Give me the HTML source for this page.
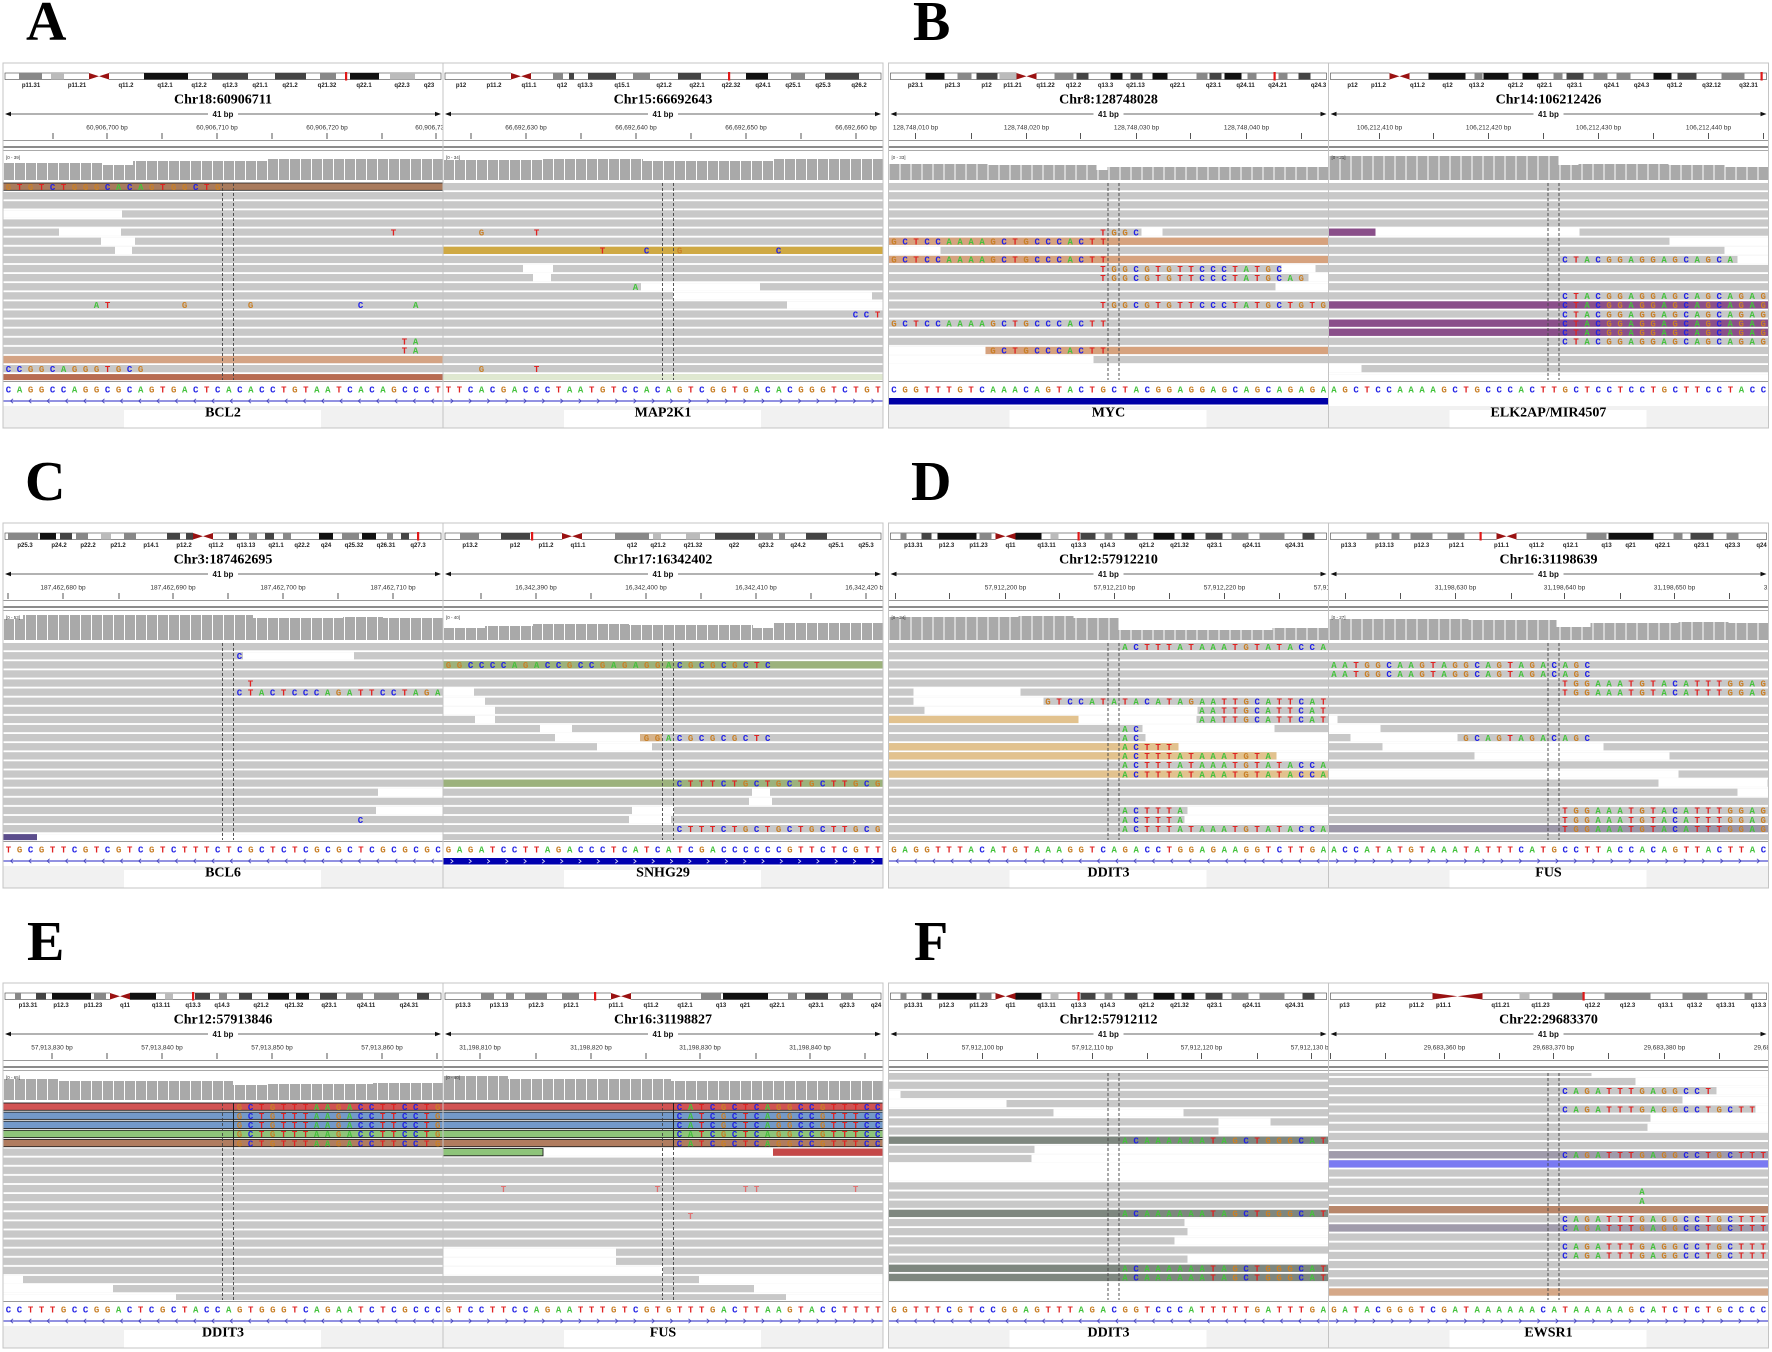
<!DOCTYPE html>
<html><head><meta charset="utf-8"><style>
html,body{margin:0;padding:0;background:#fff;overflow:hidden}
svg{display:block}
text{font-family:"Liberation Sans",sans-serif}
.q{font:bold 9px "Liberation Mono",monospace;letter-spacing:5.6px;white-space:pre}
.a{fill:#44c23c}.c{fill:#2222e6}.g{fill:#c98028}.t{fill:#e02222}
.bl{font:bold 6px "Liberation Sans",sans-serif;fill:#222;text-anchor:middle}
.tt{font:bold 14px "Liberation Serif",serif;text-anchor:middle;fill:#000}
.tk{font:6.5px "Liberation Sans",sans-serif;fill:#333;text-anchor:middle}
.bp{font:bold 8px "Liberation Sans",sans-serif;text-anchor:middle;fill:#111}
.cl{font:4.5px "Liberation Sans",sans-serif;fill:#333}
.big{font:bold 56px "Liberation Serif",serif;fill:#000}
.w{fill:#fff}.cv{fill:#a9a9a9}
.i1{stroke:#111;stroke-width:6.5}.i2{stroke:#444;stroke-width:6.5}.i3{stroke:#888;stroke-width:6.5}.i4{stroke:#bbb;stroke-width:6.5}
.tkl{stroke:#555;stroke-width:1}
.ds{stroke:#444;stroke-width:.9;stroke-dasharray:3 2;fill:none}
.fr{fill:none;stroke:#c4c4c4;stroke-width:1}
</style></head><body>
<svg xmlns="http://www.w3.org/2000/svg" width="1772" height="1352" viewBox="0 0 1772 1352">
<defs>
<clipPath id="cp"><rect x="0" y="0" width="440" height="365"/></clipPath>
<pattern id="rw" x="0" y="120" width="440" height="9.1" patternUnits="userSpaceOnUse"><rect width="440" height="7.3" fill="#c8c8c8"/></pattern>
<pattern id="rf1" x="0" y="89.5" width="440" height="9.15" patternUnits="userSpaceOnUse"><rect width="440" height="7.3" fill="#c8c8c8"/></pattern>
<pattern id="rf2" x="0" y="94.9" width="440" height="9.15" patternUnits="userSpaceOnUse"><rect width="440" height="7.3" fill="#c8c8c8"/></pattern>
<pattern id="vs" x="0" y="0" width="11" height="400" patternUnits="userSpaceOnUse"><rect width="1" height="400" fill="#fff"/></pattern>
<pattern id="gl" x="0" y="335" width="18.3" height="6" patternUnits="userSpaceOnUse"><path d="M10,0.8L7.6,3L10,5.2" stroke="#3838b8" stroke-width="0.8" fill="none"/></pattern>
<pattern id="gr" x="0" y="335" width="18.3" height="6" patternUnits="userSpaceOnUse"><path d="M7.6,0.8L10,3L7.6,5.2" stroke="#3838b8" stroke-width="0.8" fill="none"/></pattern>
<pattern id="gw" x="0" y="335" width="18.3" height="6.5" patternUnits="userSpaceOnUse"><path d="M7.6,1.3L10,3.25L7.6,5.2" stroke="#fff" stroke-width="0.8" fill="none"/></pattern>
</defs>

<text class="big" x="26" y="40">A</text>
<text class="big" x="913" y="40">B</text>
<text class="big" x="25" y="500">C</text>
<text class="big" x="911" y="500">D</text>
<text class="big" x="27" y="960">E</text>
<text class="big" x="914" y="960">F</text>

<!-- ================= PANEL A ================= -->
<g transform="translate(3,63)">
<g clip-path="url(#cp)">
<rect x="2" y="10" width="436" height="6.5" fill="#fff" stroke="#444" stroke-width="0.6"/>
<path class="i1" d="M141,13.25H185M347,13.25H376"/><path class="i2" d="M209,13.25H245M272,13.25H303"/><path class="i3" d="M16,13.25H39M317,13.25H333"/><path class="i4" d="M48,13.25H61M387,13.25H412"/>
<rect x="86" y="9.5" width="20" height="7.5" fill="#fff"/><path d="M86,10L96,13.25L86,16.5ZM106,10L96,13.25L106,16.5Z" fill="#9a1212"/><rect x="342" y="9" width="2.2" height="8.5" fill="#e01818"/>
<text class="bl" y="24"><tspan x="28">p11.31</tspan><tspan x="74">p11.21</tspan><tspan x="123">q11.2</tspan><tspan x="162">q12.1</tspan><tspan x="196">q12.2</tspan><tspan x="227">q12.3</tspan><tspan x="257">q21.1</tspan><tspan x="287">q21.2</tspan><tspan x="324">q21.32</tspan><tspan x="361">q22.1</tspan><tspan x="399">q22.3</tspan><tspan x="426">q23</tspan></text>
<text class="tt" x="220" y="40.7">Chr18:60906711</text>
<path d="M6,51H434" stroke="#333" stroke-width="0.8"/><path d="M2,51l6,-2.2v4.4zM438,51l-6,-2.2v4.4z" fill="#111"/><rect x="205" y="46" width="30" height="9" fill="#fff"/><text class="bp" x="220" y="54">41 bp</text>
<text class="tk" y="66.5"><tspan x="104">60,906,700 bp</tspan><tspan x="214">60,906,710 bp</tspan><tspan x="324">60,906,720 bp</tspan><tspan x="433">60,906,730 bp</tspan></text>
<path class="tkl" d="M50,70v6M104,70v6M159,70v6M214,70v6M269,70v6M324,70v6M379,70v6M433,70v6"/>
<path d="M0,77.5H440" stroke="#999"/><path d="M0,84H440" stroke="#666" stroke-width="1.4"/><path d="M0,87.5H440" stroke="#aaa"/>
<g class="cv"><rect x="0" y="100" width="100" height="17"/><rect x="100" y="102" width="30" height="15"/><rect x="130" y="98" width="134" height="19"/><rect x="264" y="96" width="176" height="21"/></g>
<rect x="0" y="90" width="440" height="28" fill="url(#vs)"/><text class="cl" x="3" y="96">[0 - 39]</text>
<rect y="120" width="440" height="197" fill="#fff"/><rect y="120" width="440" height="197" fill="url(#rw)"/>
<rect y="120" width="440" height="7.3" fill="#a97b5d" stroke="#222" stroke-width="0.8"/>
<rect class="w" x="0" y="147.3" width="119" height="7.4"/>
<rect class="w" x="56" y="165.5" width="62" height="7.4"/>
<rect class="w" x="98" y="174.6" width="34" height="7.4"/>
<rect class="w" x="112" y="183.7" width="17" height="7.4"/>
<rect y="292.9" width="440" height="7.3" fill="#d4a384"/>
<rect y="311.1" width="440" height="6" fill="#b86c52"/>
<text class="q" x="2.8" y="126.9"><tspan class="g">G</tspan><tspan class="t">T</tspan><tspan class="g">G</tspan><tspan class="t">T</tspan><tspan class="c">C</tspan><tspan class="t">T</tspan><tspan class="g">GGG</tspan><tspan class="c">C</tspan><tspan class="a">A</tspan><tspan class="c">C</tspan><tspan class="a">A</tspan><tspan class="g">G</tspan><tspan class="t">T</tspan><tspan class="g">GG</tspan><tspan class="c">C</tspan><tspan class="t">T</tspan><tspan class="g">G</tspan></text>
<text class="q" x="387.8" y="172.4"><tspan class="t">T</tspan></text>
<text class="q" x="90.8" y="245.2"><tspan class="a">A</tspan><tspan class="t">T</tspan>      <tspan class="g">G</tspan>     <tspan class="g">G</tspan>         <tspan class="c">C</tspan>    <tspan class="a">A</tspan></text>
<text class="q" x="398.8" y="281.6"><tspan class="t">T</tspan><tspan class="a">A</tspan></text>
<text class="q" x="398.8" y="290.7"><tspan class="t">T</tspan><tspan class="a">A</tspan></text>
<text class="q" x="2.8" y="308.9"><tspan class="c">CC</tspan><tspan class="g">GG</tspan><tspan class="c">C</tspan><tspan class="a">A</tspan><tspan class="g">GGG</tspan><tspan class="t">T</tspan><tspan class="g">G</tspan><tspan class="c">C</tspan><tspan class="g">G</tspan></text>
<path class="ds" d="M219.5,120V317M230.5,120V317"/>
<path d="M0,318.5H440" stroke="#999"/>
<text class="q" x="2.8" y="329.5"><tspan class="c">C</tspan><tspan class="a">A</tspan><tspan class="g">GG</tspan><tspan class="c">CC</tspan><tspan class="a">A</tspan><tspan class="g">GG</tspan><tspan class="c">C</tspan><tspan class="g">G</tspan><tspan class="c">C</tspan><tspan class="a">A</tspan><tspan class="g">G</tspan><tspan class="t">T</tspan><tspan class="g">G</tspan><tspan class="a">A</tspan><tspan class="c">C</tspan><tspan class="t">T</tspan><tspan class="c">C</tspan><tspan class="a">A</tspan><tspan class="c">C</tspan><tspan class="a">A</tspan><tspan class="c">CC</tspan><tspan class="t">T</tspan><tspan class="g">G</tspan><tspan class="t">T</tspan><tspan class="a">AA</tspan><tspan class="t">T</tspan><tspan class="c">C</tspan><tspan class="a">A</tspan><tspan class="c">C</tspan><tspan class="a">A</tspan><tspan class="g">G</tspan><tspan class="c">CCC</tspan><tspan class="t">T</tspan></text>
<path d="M0,338H440" stroke="#5050d0" stroke-width="1.3"/><rect x="0" y="335" width="440" height="6" fill="url(#gl)"/>
<rect y="343" width="440" height="22" fill="#f1f1f1"/><rect x="121" y="347" width="197" height="18" fill="#fff"/>
<text class="tt" x="220" y="353.7">BCL2</text>
</g>
<g transform="translate(440,0)"><g clip-path="url(#cp)">
<rect x="2" y="10" width="436" height="6.5" fill="#fff" stroke="#444" stroke-width="0.6"/>
<path class="i1" d="M303,13.25H325"/><path class="i2" d="M126,13.25H131M145,13.25H173M235,13.25H258M382,13.25H416"/><path class="i3" d="M110,13.25H120M190,13.25H207M348,13.25H362"/>
<rect x="68" y="9.5" width="20" height="7.5" fill="#fff"/><path d="M68,10L78,13.25L68,16.5ZM88,10L78,13.25L88,16.5Z" fill="#9a1212"/><rect x="285" y="9" width="2.2" height="8.5" fill="#e01818"/>
<text class="bl" y="24"><tspan x="18">p12</tspan><tspan x="51">p11.2</tspan><tspan x="86">q11.1</tspan><tspan x="119">q12</tspan><tspan x="142">q13.3</tspan><tspan x="179">q15.1</tspan><tspan x="221">q21.2</tspan><tspan x="254">q22.1</tspan><tspan x="288">q22.32</tspan><tspan x="320">q24.1</tspan><tspan x="350">q25.1</tspan><tspan x="380">q25.3</tspan><tspan x="416">q26.2</tspan></text>
<text class="tt" x="220" y="40.7">Chr15:66692643</text>
<path d="M6,51H434" stroke="#333" stroke-width="0.8"/><path d="M2,51l6,-2.2v4.4zM438,51l-6,-2.2v4.4z" fill="#111"/><rect x="205" y="46" width="30" height="9" fill="#fff"/><text class="bp" x="220" y="54">41 bp</text>
<text class="tk" y="66.5"><tspan x="83">66,692,630 bp</tspan><tspan x="193">66,692,640 bp</tspan><tspan x="303">66,692,650 bp</tspan><tspan x="413">66,692,660 bp</tspan></text>
<path class="tkl" d="M28,70v6M83,70v6M138,70v6M193,70v6M248,70v6M303,70v6M358,70v6M413,70v6"/>
<path d="M0,77.5H440" stroke="#999"/><path d="M0,84H440" stroke="#666" stroke-width="1.4"/><path d="M0,87.5H440" stroke="#aaa"/>
<g class="cv"><rect x="0" y="97" width="100" height="20"/><rect x="100" y="96" width="100" height="21"/><rect x="200" y="98" width="130" height="19"/><rect x="330" y="96" width="110" height="21"/></g>
<rect x="0" y="90" width="440" height="28" fill="url(#vs)"/><text class="cl" x="3" y="96">[0 - 34]</text>
<rect y="120" width="440" height="197" fill="#fff"/><rect y="120" width="440" height="197" fill="url(#rw)"/>
<rect y="183.7" width="440" height="7.3" fill="#cfa944"/>
<rect class="w" x="80" y="201.9" width="30" height="7.4"/>
<rect class="w" x="90" y="211" width="18" height="7.4"/>
<rect class="w" x="198" y="220.1" width="119" height="7.4"/>
<rect class="w" x="230" y="229.2" width="199" height="7.4"/>
<rect class="w" x="344" y="238.3" width="96" height="7.4"/>
<rect y="311.1" width="440" height="6" fill="#dfe8d0"/>
<text class="q" x="35.8" y="172.4"><tspan class="g">G</tspan>    <tspan class="t">T</tspan></text>
<text class="q" x="156.8" y="190.6"><tspan class="t">T</tspan>   <tspan class="c">C</tspan>  <tspan class="g">G</tspan>        <tspan class="c">C</tspan></text>
<text class="q" x="189.8" y="227"><tspan class="a">A</tspan></text>
<text class="q" x="409.8" y="254.3"><tspan class="c">CC</tspan><tspan class="t">T</tspan></text>
<text class="q" x="35.8" y="308.9"><tspan class="g">G</tspan>    <tspan class="t">T</tspan></text>
<path class="ds" d="M219.5,120V317M230.5,120V317"/>
<path d="M0,318.5H440" stroke="#999"/>
<text class="q" x="2.8" y="329.5"><tspan class="t">TT</tspan><tspan class="c">C</tspan><tspan class="a">A</tspan><tspan class="c">C</tspan><tspan class="g">G</tspan><tspan class="a">A</tspan><tspan class="c">CCC</tspan><tspan class="t">T</tspan><tspan class="a">AA</tspan><tspan class="t">T</tspan><tspan class="g">G</tspan><tspan class="t">T</tspan><tspan class="c">CC</tspan><tspan class="a">A</tspan><tspan class="c">C</tspan><tspan class="a">A</tspan><tspan class="g">G</tspan><tspan class="t">T</tspan><tspan class="c">C</tspan><tspan class="g">GG</tspan><tspan class="t">T</tspan><tspan class="g">G</tspan><tspan class="a">A</tspan><tspan class="c">C</tspan><tspan class="a">A</tspan><tspan class="c">C</tspan><tspan class="g">GGG</tspan><tspan class="t">T</tspan><tspan class="c">C</tspan><tspan class="t">T</tspan><tspan class="g">G</tspan><tspan class="t">T</tspan></text>
<path d="M0,338H440" stroke="#5050d0" stroke-width="1.3"/><rect x="0" y="335" width="440" height="6" fill="url(#gr)"/>
<rect y="343" width="440" height="22" fill="#f1f1f1"/><rect x="121" y="347" width="197" height="18" fill="#fff"/>
<text class="tt" x="220" y="353.7">MAP2K1</text>
</g></g>
<rect class="fr" x="0" y="0" width="880" height="365"/><path d="M440,0V365" stroke="#c4c4c4"/>
</g>

<!-- ================= PANEL B ================= -->
<g transform="translate(888.5,63)">
<g clip-path="url(#cp)">
<rect x="2" y="10" width="436" height="6.5" fill="#fff" stroke="#444" stroke-width="0.6"/>
<path class="i1" d="M37,13.25H56M222,13.25H234M264,13.25H279M336,13.25H353"/><path class="i2" d="M88,13.25H109M188,13.25H200M242,13.25H254M321,13.25H333M410,13.25H422"/><path class="i3" d="M69,13.25H83M166,13.25H185M308,13.25H319M359,13.25H368M390,13.25H399"/><path class="i4" d="M111,13.25H129"/>
<rect x="128" y="9.5" width="20" height="7.5" fill="#fff"/><path d="M128,10L138,13.25L128,16.5ZM148,10L138,13.25L148,16.5Z" fill="#9a1212"/><rect x="385" y="9" width="2.2" height="8.5" fill="#e01818"/>
<text class="bl" y="24"><tspan x="27">p23.1</tspan><tspan x="64">p21.3</tspan><tspan x="98">p12</tspan><tspan x="124">p11.21</tspan><tspan x="157">q11.22</tspan><tspan x="185">q12.2</tspan><tspan x="217">q13.3</tspan><tspan x="247">q21.13</tspan><tspan x="289">q22.1</tspan><tspan x="325">q23.1</tspan><tspan x="357">q24.11</tspan><tspan x="389">q24.21</tspan><tspan x="430">q24.3</tspan></text>
<text class="tt" x="220" y="40.7">Chr8:128748028</text>
<path d="M6,51H434" stroke="#333" stroke-width="0.8"/><path d="M2,51l6,-2.2v4.4zM438,51l-6,-2.2v4.4z" fill="#111"/><rect x="205" y="46" width="30" height="9" fill="#fff"/><text class="bp" x="220" y="54">41 bp</text>
<text class="tk" y="66.5"><tspan x="27">128,748,010 bp</tspan><tspan x="138">128,748,020 bp</tspan><tspan x="248">128,748,030 bp</tspan><tspan x="358">128,748,040 bp</tspan></text>
<path class="tkl" d="M27,70v6M83,70v6M138,70v6M192,70v6M248,70v6M302,70v6M358,70v6M413,70v6"/>
<path d="M0,77.5H440" stroke="#999"/><path d="M0,84H440" stroke="#666" stroke-width="1.4"/><path d="M0,87.5H440" stroke="#aaa"/>
<g class="cv"><rect x="0" y="101" width="100" height="16"/><rect x="100" y="102" width="108" height="15"/><rect x="208" y="107" width="11" height="10"/><rect x="219" y="104" width="221" height="13"/></g>
<rect x="0" y="90" width="440" height="28" fill="url(#vs)"/><text class="cl" x="3" y="96">[0 - 33]</text>
<rect y="120" width="440" height="197" fill="#fff"/><rect y="120" width="440" height="197" fill="url(#rw)"/>
<rect class="w" x="253" y="165.5" width="21" height="7.4"/>
<rect y="174.6" width="440" height="7.3" fill="#d6a27e"/>
<rect class="w" x="0" y="183.7" width="52" height="7.4"/>
<rect y="192.8" width="440" height="7.3" fill="#d6a27e"/>
<rect class="w" x="393" y="201.9" width="34" height="7.4"/>
<rect class="w" x="420" y="211" width="20" height="7.4"/>
<rect class="w" x="387" y="220.1" width="53" height="7.4"/>
<rect class="w" x="0" y="283.8" width="97" height="7.4"/><rect x="97" y="283.8" width="343" height="7.3" fill="#d6a27e"/>
<rect class="w" x="0" y="292.9" width="205" height="7.4"/>
<rect class="w" x="0" y="302" width="440" height="16"/>
<text class="q" x="211.8" y="172.4"><tspan class="t">T</tspan><tspan class="g">GG</tspan><tspan class="c">C</tspan></text>
<text class="q" x="2.8" y="181.5"><tspan class="g">G</tspan><tspan class="c">C</tspan><tspan class="t">T</tspan><tspan class="c">CC</tspan><tspan class="a">AAAA</tspan><tspan class="g">G</tspan><tspan class="c">C</tspan><tspan class="t">T</tspan><tspan class="g">G</tspan><tspan class="c">CCC</tspan><tspan class="a">A</tspan><tspan class="c">C</tspan><tspan class="t">TT</tspan></text>
<text class="q" x="2.8" y="199.7"><tspan class="g">G</tspan><tspan class="c">C</tspan><tspan class="t">T</tspan><tspan class="c">CC</tspan><tspan class="a">AAAA</tspan><tspan class="g">G</tspan><tspan class="c">C</tspan><tspan class="t">T</tspan><tspan class="g">G</tspan><tspan class="c">CCC</tspan><tspan class="a">A</tspan><tspan class="c">C</tspan><tspan class="t">TT</tspan></text>
<text class="q" x="211.8" y="208.8"><tspan class="t">T</tspan><tspan class="g">GG</tspan><tspan class="c">C</tspan><tspan class="g">G</tspan><tspan class="t">T</tspan><tspan class="g">G</tspan><tspan class="t">TT</tspan><tspan class="c">CCC</tspan><tspan class="t">T</tspan><tspan class="a">A</tspan><tspan class="t">T</tspan><tspan class="g">G</tspan><tspan class="c">C</tspan></text>
<text class="q" x="211.8" y="217.9"><tspan class="t">T</tspan><tspan class="g">GG</tspan><tspan class="c">C</tspan><tspan class="g">G</tspan><tspan class="t">T</tspan><tspan class="g">G</tspan><tspan class="t">TT</tspan><tspan class="c">CCC</tspan><tspan class="t">T</tspan><tspan class="a">A</tspan><tspan class="t">T</tspan><tspan class="g">G</tspan><tspan class="c">C</tspan><tspan class="a">A</tspan><tspan class="g">G</tspan></text>
<text class="q" x="211.8" y="245.2"><tspan class="t">T</tspan><tspan class="g">GG</tspan><tspan class="c">C</tspan><tspan class="g">G</tspan><tspan class="t">T</tspan><tspan class="g">G</tspan><tspan class="t">TT</tspan><tspan class="c">CCC</tspan><tspan class="t">T</tspan><tspan class="a">A</tspan><tspan class="t">T</tspan><tspan class="g">G</tspan><tspan class="c">C</tspan><tspan class="t">T</tspan><tspan class="g">G</tspan><tspan class="t">T</tspan><tspan class="g">G</tspan></text>
<text class="q" x="2.8" y="263.4"><tspan class="g">G</tspan><tspan class="c">C</tspan><tspan class="t">T</tspan><tspan class="c">CC</tspan><tspan class="a">AAAA</tspan><tspan class="g">G</tspan><tspan class="c">C</tspan><tspan class="t">T</tspan><tspan class="g">G</tspan><tspan class="c">CCC</tspan><tspan class="a">A</tspan><tspan class="c">C</tspan><tspan class="t">TT</tspan></text>
<text class="q" x="101.8" y="290.7"><tspan class="g">G</tspan><tspan class="c">C</tspan><tspan class="t">T</tspan><tspan class="g">G</tspan><tspan class="c">CCC</tspan><tspan class="a">A</tspan><tspan class="c">C</tspan><tspan class="t">TT</tspan></text>
<path class="ds" d="M219.5,120V317M230.5,120V317"/>
<path d="M0,318.5H440" stroke="#999"/>
<text class="q" x="2.8" y="329.5"><tspan class="c">C</tspan><tspan class="g">GG</tspan><tspan class="t">TTT</tspan><tspan class="g">G</tspan><tspan class="t">T</tspan><tspan class="c">C</tspan><tspan class="a">AAA</tspan><tspan class="c">C</tspan><tspan class="a">A</tspan><tspan class="g">G</tspan><tspan class="t">T</tspan><tspan class="a">A</tspan><tspan class="c">C</tspan><tspan class="t">T</tspan><tspan class="g">G</tspan><tspan class="c">C</tspan><tspan class="t">T</tspan><tspan class="a">A</tspan><tspan class="c">C</tspan><tspan class="g">GG</tspan><tspan class="a">A</tspan><tspan class="g">GG</tspan><tspan class="a">A</tspan><tspan class="g">G</tspan><tspan class="c">C</tspan><tspan class="a">A</tspan><tspan class="g">G</tspan><tspan class="c">C</tspan><tspan class="a">A</tspan><tspan class="g">G</tspan><tspan class="a">A</tspan><tspan class="g">G</tspan><tspan class="a">A</tspan></text>
<rect x="0" y="335" width="440" height="6.5" fill="#0000a6"/>
<rect y="343" width="440" height="22" fill="#f1f1f1"/><rect x="121" y="347" width="197" height="18" fill="#fff"/>
<text class="tt" x="220" y="353.7">MYC</text>
</g>
<g transform="translate(440,0)"><g clip-path="url(#cp)">
<rect x="2" y="10" width="436" height="6.5" fill="#fff" stroke="#444" stroke-width="0.6"/>
<path class="i1" d="M100,13.25H137M155,13.25H180M194,13.25H210M325,13.25H343"/><path class="i2" d="M238,13.25H255M349,13.25H368"/><path class="i3" d="M146,13.25H154M225,13.25H234M265,13.25H279M288,13.25H302M393,13.25H416"/>
<rect x="61" y="9.5" width="20" height="7.5" fill="#fff"/><path d="M61,10L71,13.25L61,16.5ZM81,10L71,13.25L81,16.5Z" fill="#9a1212"/><rect x="432" y="9" width="2.2" height="8.5" fill="#e01818"/>
<text class="bl" y="24"><tspan x="24">p12</tspan><tspan x="50">p11.2</tspan><tspan x="89">q11.2</tspan><tspan x="119">q12</tspan><tspan x="148">q13.2</tspan><tspan x="187">q21.2</tspan><tspan x="216">q22.1</tspan><tspan x="246">q23.1</tspan><tspan x="283">q24.1</tspan><tspan x="313">q24.3</tspan><tspan x="346">q31.2</tspan><tspan x="383">q32.12</tspan><tspan x="420">q32.31</tspan></text>
<text class="tt" x="220" y="40.7">Chr14:106212426</text>
<path d="M6,51H434" stroke="#333" stroke-width="0.8"/><path d="M2,51l6,-2.2v4.4zM438,51l-6,-2.2v4.4z" fill="#111"/><rect x="205" y="46" width="30" height="9" fill="#fff"/><text class="bp" x="220" y="54">41 bp</text>
<text class="tk" y="66.5"><tspan x="51">106,212,410 bp</tspan><tspan x="160">106,212,420 bp</tspan><tspan x="270">106,212,430 bp</tspan><tspan x="380">106,212,440 bp</tspan></text>
<path class="tkl" d="M51,70v6M105,70v6M160,70v6M215,70v6M270,70v6M325,70v6M380,70v6M435,70v6"/>
<path d="M0,77.5H440" stroke="#999"/><path d="M0,84H440" stroke="#666" stroke-width="1.4"/><path d="M0,87.5H440" stroke="#aaa"/>
<g class="cv"><rect x="0" y="93" width="230" height="24"/><rect x="230" y="102" width="20" height="15"/><rect x="250" y="101" width="90" height="16"/><rect x="340" y="102" width="56" height="15"/><rect x="396" y="104" width="44" height="13"/></g>
<rect x="0" y="90" width="440" height="28" fill="url(#vs)"/><text class="cl" x="3" y="96">[0 - 21]</text>
<rect y="120" width="440" height="197" fill="#fff"/><rect y="120" width="440" height="197" fill="url(#rw)"/>
<rect x="0" y="165.5" width="47" height="7.3" fill="#8a4f8a"/><rect class="w" x="47" y="165.5" width="204" height="7.4"/>
<rect class="w" x="341" y="174.6" width="99" height="7.4"/>
<rect class="w" x="396" y="183.7" width="44" height="7.4"/>
<rect class="w" x="409" y="192.8" width="31" height="7.4"/>
<rect y="238.3" width="440" height="7.3" fill="#8a4f8a"/>
<rect y="256.5" width="440" height="7.3" fill="#8a4f8a"/>
<rect y="265.6" width="440" height="7.3" fill="#8a4f8a"/>
<rect class="w" x="0" y="302" width="33" height="7.4"/>
<rect class="w" x="0" y="311.1" width="440" height="7"/>
<text class="q" x="233.8" y="199.7"><tspan class="c">C</tspan><tspan class="t">T</tspan><tspan class="a">A</tspan><tspan class="c">C</tspan><tspan class="g">GG</tspan><tspan class="a">A</tspan><tspan class="g">GG</tspan><tspan class="a">A</tspan><tspan class="g">G</tspan><tspan class="c">C</tspan><tspan class="a">A</tspan><tspan class="g">G</tspan><tspan class="c">C</tspan><tspan class="a">A</tspan></text>
<text class="q" x="233.8" y="236.1"><tspan class="c">C</tspan><tspan class="t">T</tspan><tspan class="a">A</tspan><tspan class="c">C</tspan><tspan class="g">GG</tspan><tspan class="a">A</tspan><tspan class="g">GG</tspan><tspan class="a">A</tspan><tspan class="g">G</tspan><tspan class="c">C</tspan><tspan class="a">A</tspan><tspan class="g">G</tspan><tspan class="c">C</tspan><tspan class="a">A</tspan><tspan class="g">G</tspan><tspan class="a">A</tspan><tspan class="g">G</tspan></text>
<text class="q" x="233.8" y="245.2"><tspan class="c">C</tspan><tspan class="t">T</tspan><tspan class="a">A</tspan><tspan class="c">C</tspan><tspan class="g">GG</tspan><tspan class="a">A</tspan><tspan class="g">GG</tspan><tspan class="a">A</tspan><tspan class="g">G</tspan><tspan class="c">C</tspan><tspan class="a">A</tspan><tspan class="g">G</tspan><tspan class="c">C</tspan><tspan class="a">A</tspan><tspan class="g">G</tspan><tspan class="a">A</tspan><tspan class="g">G</tspan></text>
<text class="q" x="233.8" y="254.3"><tspan class="c">C</tspan><tspan class="t">T</tspan><tspan class="a">A</tspan><tspan class="c">C</tspan><tspan class="g">GG</tspan><tspan class="a">A</tspan><tspan class="g">GG</tspan><tspan class="a">A</tspan><tspan class="g">G</tspan><tspan class="c">C</tspan><tspan class="a">A</tspan><tspan class="g">G</tspan><tspan class="c">C</tspan><tspan class="a">A</tspan><tspan class="g">G</tspan><tspan class="a">A</tspan><tspan class="g">G</tspan></text>
<text class="q" x="233.8" y="263.4"><tspan class="c">C</tspan><tspan class="t">T</tspan><tspan class="a">A</tspan><tspan class="c">C</tspan><tspan class="g">GG</tspan><tspan class="a">A</tspan><tspan class="g">GG</tspan><tspan class="a">A</tspan><tspan class="g">G</tspan><tspan class="c">C</tspan><tspan class="a">A</tspan><tspan class="g">G</tspan><tspan class="c">C</tspan><tspan class="a">A</tspan><tspan class="g">G</tspan><tspan class="a">A</tspan><tspan class="g">G</tspan></text>
<text class="q" x="233.8" y="272.5"><tspan class="c">C</tspan><tspan class="t">T</tspan><tspan class="a">A</tspan><tspan class="c">C</tspan><tspan class="g">GG</tspan><tspan class="a">A</tspan><tspan class="g">GG</tspan><tspan class="a">A</tspan><tspan class="g">G</tspan><tspan class="c">C</tspan><tspan class="a">A</tspan><tspan class="g">G</tspan><tspan class="c">C</tspan><tspan class="a">A</tspan><tspan class="g">G</tspan><tspan class="a">A</tspan><tspan class="g">G</tspan></text>
<text class="q" x="233.8" y="281.6"><tspan class="c">C</tspan><tspan class="t">T</tspan><tspan class="a">A</tspan><tspan class="c">C</tspan><tspan class="g">GG</tspan><tspan class="a">A</tspan><tspan class="g">GG</tspan><tspan class="a">A</tspan><tspan class="g">G</tspan><tspan class="c">C</tspan><tspan class="a">A</tspan><tspan class="g">G</tspan><tspan class="c">C</tspan><tspan class="a">A</tspan><tspan class="g">G</tspan><tspan class="a">A</tspan><tspan class="g">G</tspan></text>
<path class="ds" d="M219.5,120V317M230.5,120V317"/>
<path d="M0,318.5H440" stroke="#999"/>
<text class="q" x="2.8" y="329.5"><tspan class="a">A</tspan><tspan class="g">G</tspan><tspan class="c">C</tspan><tspan class="t">T</tspan><tspan class="c">CC</tspan><tspan class="a">AAAA</tspan><tspan class="g">G</tspan><tspan class="c">C</tspan><tspan class="t">T</tspan><tspan class="g">G</tspan><tspan class="c">CCC</tspan><tspan class="a">A</tspan><tspan class="c">C</tspan><tspan class="t">TT</tspan><tspan class="g">G</tspan><tspan class="c">C</tspan><tspan class="t">T</tspan><tspan class="c">CC</tspan><tspan class="t">T</tspan><tspan class="c">CC</tspan><tspan class="t">T</tspan><tspan class="g">G</tspan><tspan class="c">C</tspan><tspan class="t">TT</tspan><tspan class="c">CC</tspan><tspan class="t">T</tspan><tspan class="a">A</tspan><tspan class="c">CC</tspan></text>
<rect y="343" width="440" height="22" fill="#f1f1f1"/><rect x="121" y="347" width="197" height="18" fill="#fff"/>
<text class="tt" x="220" y="353.7">ELK2AP/MIR4507</text>
</g></g>
<rect class="fr" x="0" y="0" width="880" height="365"/><path d="M440,0V365" stroke="#c4c4c4"/>
</g>

<!-- ================= PANEL C ================= -->
<g transform="translate(3,523)">
<g clip-path="url(#cp)">
<rect x="2" y="10" width="436" height="6.5" fill="#fff" stroke="#444" stroke-width="0.6"/>
<path class="i1" d="M37,13.25H53M316,13.25H330M359,13.25H373"/><path class="i2" d="M57,13.25H69M164,13.25H177M183,13.25H192M226,13.25H234M262,13.25H271M398,13.25H406"/><path class="i3" d="M5,13.25H35M73,13.25H85M121,13.25H133M246,13.25H254M280,13.25H288M339,13.25H356M384,13.25H390"/><path class="i4" d="M98,13.25H108"/>
<rect x="190" y="9.5" width="20" height="7.5" fill="#fff"/><path d="M190,10L200,13.25L190,16.5ZM210,10L200,13.25L210,16.5Z" fill="#9a1212"/><rect x="414" y="9" width="2.2" height="8.5" fill="#e01818"/>
<text class="bl" y="24"><tspan x="22">p25.3</tspan><tspan x="56">p24.2</tspan><tspan x="85">p22.2</tspan><tspan x="115">p21.2</tspan><tspan x="148">p14.1</tspan><tspan x="181">p12.2</tspan><tspan x="213">q11.2</tspan><tspan x="243">q13.13</tspan><tspan x="273">q21.1</tspan><tspan x="299">q22.2</tspan><tspan x="323">q24</tspan><tspan x="351">q25.32</tspan><tspan x="383">q26.31</tspan><tspan x="415">q27.3</tspan></text>
<text class="tt" x="220" y="40.7">Chr3:187462695</text>
<path d="M6,51H434" stroke="#333" stroke-width="0.8"/><path d="M2,51l6,-2.2v4.4zM438,51l-6,-2.2v4.4z" fill="#111"/><rect x="205" y="46" width="30" height="9" fill="#fff"/><text class="bp" x="220" y="54">41 bp</text>
<text class="tk" y="66.5"><tspan x="60">187,462,680 bp</tspan><tspan x="170">187,462,690 bp</tspan><tspan x="280">187,462,700 bp</tspan><tspan x="390">187,462,710 bp</tspan></text>
<path class="tkl" d="M5,70v6M60,70v6M116,70v6M170,70v6M225,70v6M280,70v6M335,70v6M390,70v6"/>
<path d="M0,77.5H440" stroke="#999"/><path d="M0,84H440" stroke="#666" stroke-width="1.4"/><path d="M0,87.5H440" stroke="#aaa"/>
<g class="cv"><rect x="0" y="96" width="20" height="21"/><rect x="20" y="92" width="230" height="25"/><rect x="250" y="95" width="90" height="22"/><rect x="340" y="94" width="40" height="23"/><rect x="380" y="95" width="60" height="22"/></g>
<rect x="0" y="90" width="440" height="28" fill="url(#vs)"/><text class="cl" x="3" y="96">[0 - 53]</text>
<rect y="120" width="440" height="197" fill="#fff"/><rect y="120" width="440" height="197" fill="url(#rw)"/>
<rect class="w" x="240" y="129.1" width="111" height="7.4"/>
<rect class="w" x="375" y="265.6" width="65" height="7.4"/>
<rect class="w" x="373" y="283.8" width="67" height="7.4"/>
<rect class="w" x="0" y="311.1" width="440" height="7"/><rect x="0" y="311.1" width="34" height="6" fill="#5b4d8c"/>
<text class="q" x="233.8" y="136"><tspan class="c">C</tspan></text>
<text class="q" x="244.8" y="163.3"><tspan class="t">T</tspan></text>
<text class="q" x="233.8" y="172.4"><tspan class="c">C</tspan><tspan class="t">T</tspan><tspan class="a">A</tspan><tspan class="c">C</tspan><tspan class="t">T</tspan><tspan class="c">CCC</tspan><tspan class="a">A</tspan><tspan class="g">G</tspan><tspan class="a">A</tspan><tspan class="t">TT</tspan><tspan class="c">CC</tspan><tspan class="t">T</tspan><tspan class="a">A</tspan><tspan class="g">G</tspan><tspan class="a">A</tspan></text>
<text class="q" x="354.8" y="299.8"><tspan class="c">C</tspan></text>
<path class="ds" d="M219.5,120V317M230.5,120V317"/>
<path d="M0,318.5H440" stroke="#999"/>
<text class="q" x="2.8" y="329.5"><tspan class="t">T</tspan><tspan class="g">G</tspan><tspan class="c">C</tspan><tspan class="g">G</tspan><tspan class="t">TT</tspan><tspan class="c">C</tspan><tspan class="g">G</tspan><tspan class="t">T</tspan><tspan class="c">C</tspan><tspan class="g">G</tspan><tspan class="t">T</tspan><tspan class="c">C</tspan><tspan class="g">G</tspan><tspan class="t">T</tspan><tspan class="c">C</tspan><tspan class="t">TTT</tspan><tspan class="c">C</tspan><tspan class="t">T</tspan><tspan class="c">C</tspan><tspan class="g">G</tspan><tspan class="c">C</tspan><tspan class="t">T</tspan><tspan class="c">C</tspan><tspan class="t">T</tspan><tspan class="c">C</tspan><tspan class="g">G</tspan><tspan class="c">C</tspan><tspan class="g">G</tspan><tspan class="c">C</tspan><tspan class="t">T</tspan><tspan class="c">C</tspan><tspan class="g">G</tspan><tspan class="c">C</tspan><tspan class="g">G</tspan><tspan class="c">C</tspan><tspan class="g">G</tspan><tspan class="c">C</tspan></text>
<path d="M0,338H440" stroke="#5050d0" stroke-width="1.3"/><rect x="0" y="335" width="440" height="6" fill="url(#gl)"/>
<rect y="343" width="440" height="22" fill="#f1f1f1"/><rect x="121" y="347" width="197" height="18" fill="#fff"/>
<text class="tt" x="220" y="353.7">BCL6</text>
</g>
<g transform="translate(440,0)"><g clip-path="url(#cp)">
<rect x="2" y="10" width="436" height="6.5" fill="#fff" stroke="#444" stroke-width="0.6"/>
<path class="i2" d="M58,13.25H87M272,13.25H312M363,13.25H384"/><path class="i3" d="M17,13.25H36M172,13.25H206M315,13.25H330M336,13.25H342"/><path class="i4" d="M210,13.25H218M243,13.25H257"/>
<rect x="119" y="9.5" width="20" height="7.5" fill="#fff"/><path d="M119,10L129,13.25L119,16.5ZM139,10L129,13.25L139,16.5Z" fill="#9a1212"/><rect x="88" y="9" width="2.2" height="8.5" fill="#e01818"/>
<text class="bl" y="24"><tspan x="27">p13.2</tspan><tspan x="72">p12</tspan><tspan x="103">p11.2</tspan><tspan x="135">q11.1</tspan><tspan x="189">q12</tspan><tspan x="215">q21.2</tspan><tspan x="250">q21.32</tspan><tspan x="291">q22</tspan><tspan x="323">q23.2</tspan><tspan x="355">q24.2</tspan><tspan x="393">q25.1</tspan><tspan x="423">q25.3</tspan></text>
<text class="tt" x="220" y="40.7">Chr17:16342402</text>
<path d="M6,51H434" stroke="#333" stroke-width="0.8"/><path d="M2,51l6,-2.2v4.4zM438,51l-6,-2.2v4.4z" fill="#111"/><rect x="205" y="46" width="30" height="9" fill="#fff"/><text class="bp" x="220" y="54">41 bp</text>
<text class="tk" y="66.5"><tspan x="93">16,342,390 bp</tspan><tspan x="203">16,342,400 bp</tspan><tspan x="313">16,342,410 bp</tspan><tspan x="423">16,342,420 bp</tspan></text>
<path class="tkl" d="M38,70v6M93,70v6M148,70v6M203,70v6M258,70v6M313,70v6M368,70v6M423,70v6"/>
<path d="M0,77.5H440" stroke="#999"/><path d="M0,84H440" stroke="#666" stroke-width="1.4"/><path d="M0,87.5H440" stroke="#aaa"/>
<g class="cv"><rect x="0" y="105" width="42" height="12"/><rect x="42" y="103" width="48" height="14"/><rect x="90" y="101" width="96" height="16"/><rect x="186" y="102" width="124" height="15"/><rect x="310" y="105" width="20" height="12"/><rect x="330" y="100" width="110" height="17"/></g>
<rect x="0" y="90" width="440" height="28" fill="url(#vs)"/><text class="cl" x="3" y="96">[0 - 40]</text>
<rect y="120" width="440" height="197" fill="#fff"/><rect y="120" width="440" height="197" fill="url(#rw)"/>
<rect y="138.2" width="440" height="7.3" fill="#9cb27c"/>
<rect class="w" x="0" y="165.5" width="31" height="7.4"/>
<rect class="w" x="0" y="174.6" width="42" height="7.4"/>
<rect class="w" x="0" y="183.7" width="52" height="7.4"/>
<rect class="w" x="32" y="192.8" width="20" height="7.4"/>
<rect class="w" x="97" y="201.9" width="32" height="7.4"/>
<rect class="w" x="112" y="211" width="88" height="7.4"/><rect x="197" y="211" width="22" height="7.3" fill="#d6b48c"/>
<rect class="w" x="154" y="220.1" width="55" height="7.4"/>
<rect y="256.5" width="440" height="7.3" fill="#9cb27c"/>
<rect class="w" x="309" y="265.6" width="18" height="7.4"/>
<rect class="w" x="306" y="274.7" width="23" height="7.4"/>
<rect class="w" x="189" y="283.8" width="42" height="7.4"/>
<rect class="w" x="186" y="292.9" width="42" height="7.4"/>
<text class="q" x="2.8" y="145.1"><tspan class="g">GG</tspan><tspan class="c">CCCC</tspan><tspan class="a">A</tspan><tspan class="g">G</tspan><tspan class="a">A</tspan><tspan class="c">CC</tspan><tspan class="g">G</tspan><tspan class="c">CC</tspan><tspan class="g">G</tspan><tspan class="a">A</tspan><tspan class="g">G</tspan><tspan class="a">A</tspan><tspan class="g">GG</tspan><tspan class="a">A</tspan><tspan class="c">C</tspan><tspan class="g">G</tspan><tspan class="c">C</tspan><tspan class="g">G</tspan><tspan class="c">C</tspan><tspan class="g">G</tspan><tspan class="c">C</tspan><tspan class="t">T</tspan><tspan class="c">C</tspan></text>
<text class="q" x="200.8" y="217.9"><tspan class="g">GG</tspan><tspan class="a">A</tspan><tspan class="c">C</tspan><tspan class="g">G</tspan><tspan class="c">C</tspan><tspan class="g">G</tspan><tspan class="c">C</tspan><tspan class="g">G</tspan><tspan class="c">C</tspan><tspan class="t">T</tspan><tspan class="c">C</tspan></text>
<text class="q" x="233.8" y="263.4"><tspan class="c">C</tspan><tspan class="t">TTT</tspan><tspan class="c">C</tspan><tspan class="t">T</tspan><tspan class="g">G</tspan><tspan class="c">C</tspan><tspan class="t">T</tspan><tspan class="g">G</tspan><tspan class="c">C</tspan><tspan class="t">T</tspan><tspan class="g">G</tspan><tspan class="c">C</tspan><tspan class="t">TT</tspan><tspan class="g">G</tspan><tspan class="c">C</tspan><tspan class="g">G</tspan></text>
<text class="q" x="233.8" y="308.9"><tspan class="c">C</tspan><tspan class="t">TTT</tspan><tspan class="c">C</tspan><tspan class="t">T</tspan><tspan class="g">G</tspan><tspan class="c">C</tspan><tspan class="t">T</tspan><tspan class="g">G</tspan><tspan class="c">C</tspan><tspan class="t">T</tspan><tspan class="g">G</tspan><tspan class="c">C</tspan><tspan class="t">TT</tspan><tspan class="g">G</tspan><tspan class="c">C</tspan><tspan class="g">G</tspan></text>
<path class="ds" d="M219.5,120V317M230.5,120V317"/>
<path d="M0,318.5H440" stroke="#999"/>
<text class="q" x="2.8" y="329.5"><tspan class="g">G</tspan><tspan class="a">A</tspan><tspan class="g">G</tspan><tspan class="a">A</tspan><tspan class="t">T</tspan><tspan class="c">CC</tspan><tspan class="t">TT</tspan><tspan class="a">A</tspan><tspan class="g">G</tspan><tspan class="a">A</tspan><tspan class="c">CCC</tspan><tspan class="t">T</tspan><tspan class="c">C</tspan><tspan class="a">A</tspan><tspan class="t">T</tspan><tspan class="c">C</tspan><tspan class="a">A</tspan><tspan class="t">T</tspan><tspan class="c">C</tspan><tspan class="g">G</tspan><tspan class="a">A</tspan><tspan class="c">CCCCCC</tspan><tspan class="g">G</tspan><tspan class="t">TT</tspan><tspan class="c">C</tspan><tspan class="t">T</tspan><tspan class="c">C</tspan><tspan class="g">G</tspan><tspan class="t">TT</tspan></text>
<rect x="0" y="335" width="440" height="6.5" fill="#0000b0"/><rect x="0" y="335" width="440" height="6.5" fill="url(#gw)"/>
<rect y="343" width="440" height="22" fill="#f1f1f1"/><rect x="121" y="347" width="197" height="18" fill="#fff"/>
<text class="tt" x="220" y="353.7">SNHG29</text>
</g></g>
<rect class="fr" x="0" y="0" width="880" height="365"/><path d="M440,0V365" stroke="#c4c4c4"/>
</g>

<!-- ================= PANEL D ================= -->
<g transform="translate(888.5,523)">
<g clip-path="url(#cp)">
<rect x="2" y="10" width="436" height="6.5" fill="#fff" stroke="#444" stroke-width="0.6"/>
<path class="i1" d="M49,13.25H88M127,13.25H153M265,13.25H286M293,13.25H306"/><path class="i2" d="M33,13.25H43M192,13.25H207M236,13.25H249M317,13.25H334M414,13.25H426"/><path class="i3" d="M12,13.25H18M91,13.25H103M216,13.25H224M343,13.25H360M371,13.25H396"/><path class="i4" d="M162,13.25H170"/>
<rect x="107" y="9.5" width="20" height="7.5" fill="#fff"/><path d="M107,10L117,13.25L107,16.5ZM127,10L117,13.25L127,16.5Z" fill="#9a1212"/><rect x="189" y="9" width="2.2" height="8.5" fill="#e01818"/>
<text class="bl" y="24"><tspan x="25">p13.31</tspan><tspan x="58">p12.3</tspan><tspan x="90">p11.23</tspan><tspan x="122">q11</tspan><tspan x="158">q13.11</tspan><tspan x="190">q13.3</tspan><tspan x="219">q14.3</tspan><tspan x="258">q21.2</tspan><tspan x="291">q21.32</tspan><tspan x="326">q23.1</tspan><tspan x="363">q24.11</tspan><tspan x="406">q24.31</tspan></text>
<text class="tt" x="220" y="40.7">Chr12:57912210</text>
<path d="M6,51H434" stroke="#333" stroke-width="0.8"/><path d="M2,51l6,-2.2v4.4zM438,51l-6,-2.2v4.4z" fill="#111"/><rect x="205" y="46" width="30" height="9" fill="#fff"/><text class="bp" x="220" y="54">41 bp</text>
<text class="tk" y="66.5"><tspan x="117">57,912,200 bp</tspan><tspan x="226">57,912,210 bp</tspan><tspan x="336">57,912,220 bp</tspan><tspan x="446">57,912,230 bp</tspan></text>
<path class="tkl" d="M7,70v6M61,70v6M117,70v6M171,70v6M226,70v6M281,70v6M336,70v6M391,70v6"/>
<path d="M0,77.5H440" stroke="#999"/><path d="M0,84H440" stroke="#666" stroke-width="1.4"/><path d="M0,87.5H440" stroke="#aaa"/>
<g class="cv"><rect x="0" y="94" width="130" height="23"/><rect x="130" y="93" width="55" height="24"/><rect x="185" y="95" width="45" height="22"/><rect x="230" y="107" width="154" height="10"/><rect x="384" y="105" width="56" height="12"/></g>
<rect x="0" y="90" width="440" height="28" fill="url(#vs)"/><text class="cl" x="3" y="96">[0 - 24]</text>
<rect y="120" width="440" height="197" fill="#fff"/><rect y="120" width="440" height="197" fill="url(#rw)"/>
<rect class="w" x="25" y="165.5" width="107" height="7.4"/>
<rect class="w" x="25" y="174.6" width="130" height="7.4"/>
<rect class="w" x="36" y="183.7" width="273" height="7.4"/>
<rect x="0" y="192.8" width="190" height="7.3" fill="#e2c28e"/><rect class="w" x="190" y="192.8" width="118" height="7.4"/>
<rect class="w" x="254" y="201.9" width="132" height="7.4"/>
<rect class="w" x="257" y="211" width="183" height="7.4"/>
<rect x="0" y="220.1" width="290" height="7.3" fill="#e2c28e"/><rect class="w" x="290" y="220.1" width="150" height="7.4"/>
<rect x="0" y="229.2" width="388" height="7.3" fill="#e2c28e"/><rect class="w" x="388" y="229.2" width="52" height="7.4"/>
<rect y="247.4" width="440" height="7.3" fill="#e2c28e"/>
<rect class="w" x="299" y="283.8" width="141" height="7.4"/>
<rect class="w" x="296" y="292.9" width="144" height="7.4"/>
<text class="q" x="233.8" y="126.9"><tspan class="a">A</tspan><tspan class="c">C</tspan><tspan class="t">TTT</tspan><tspan class="a">A</tspan><tspan class="t">T</tspan><tspan class="a">AAA</tspan><tspan class="t">T</tspan><tspan class="g">G</tspan><tspan class="t">T</tspan><tspan class="a">A</tspan><tspan class="t">T</tspan><tspan class="a">A</tspan><tspan class="c">CC</tspan><tspan class="a">A</tspan></text>
<text class="q" x="156.8" y="181.5"><tspan class="g">G</tspan><tspan class="t">T</tspan><tspan class="c">CC</tspan><tspan class="a">A</tspan><tspan class="t">T</tspan><tspan class="a">A</tspan><tspan class="t">T</tspan><tspan class="a">A</tspan><tspan class="c">C</tspan><tspan class="a">A</tspan><tspan class="t">T</tspan><tspan class="a">A</tspan><tspan class="g">G</tspan><tspan class="a">AA</tspan><tspan class="t">TT</tspan><tspan class="g">G</tspan><tspan class="c">C</tspan><tspan class="a">A</tspan><tspan class="t">TT</tspan><tspan class="c">C</tspan><tspan class="a">A</tspan><tspan class="t">T</tspan></text>
<text class="q" x="310.8" y="190.6"><tspan class="a">AA</tspan><tspan class="t">TT</tspan><tspan class="g">G</tspan><tspan class="c">C</tspan><tspan class="a">A</tspan><tspan class="t">TT</tspan><tspan class="c">C</tspan><tspan class="a">A</tspan><tspan class="t">T</tspan></text>
<text class="q" x="310.8" y="199.7"><tspan class="a">AA</tspan><tspan class="t">TT</tspan><tspan class="g">G</tspan><tspan class="c">C</tspan><tspan class="a">A</tspan><tspan class="t">TT</tspan><tspan class="c">C</tspan><tspan class="a">A</tspan><tspan class="t">T</tspan></text>
<text class="q" x="233.8" y="208.8"><tspan class="a">A</tspan><tspan class="c">C</tspan></text>
<text class="q" x="233.8" y="217.9"><tspan class="a">A</tspan><tspan class="c">C</tspan></text>
<text class="q" x="233.8" y="227"><tspan class="a">A</tspan><tspan class="c">C</tspan><tspan class="t">TTT</tspan></text>
<text class="q" x="233.8" y="236.1"><tspan class="a">A</tspan><tspan class="c">C</tspan><tspan class="t">TTT</tspan><tspan class="a">A</tspan><tspan class="t">T</tspan><tspan class="a">AAA</tspan><tspan class="t">T</tspan><tspan class="g">G</tspan><tspan class="t">T</tspan><tspan class="a">A</tspan></text>
<text class="q" x="233.8" y="245.2"><tspan class="a">A</tspan><tspan class="c">C</tspan><tspan class="t">TTT</tspan><tspan class="a">A</tspan><tspan class="t">T</tspan><tspan class="a">AAA</tspan><tspan class="t">T</tspan><tspan class="g">G</tspan><tspan class="t">T</tspan><tspan class="a">A</tspan><tspan class="t">T</tspan><tspan class="a">A</tspan><tspan class="c">CC</tspan><tspan class="a">A</tspan></text>
<text class="q" x="233.8" y="254.3"><tspan class="a">A</tspan><tspan class="c">C</tspan><tspan class="t">TTT</tspan><tspan class="a">A</tspan><tspan class="t">T</tspan><tspan class="a">AAA</tspan><tspan class="t">T</tspan><tspan class="g">G</tspan><tspan class="t">T</tspan><tspan class="a">A</tspan><tspan class="t">T</tspan><tspan class="a">A</tspan><tspan class="c">CC</tspan><tspan class="a">A</tspan></text>
<text class="q" x="233.8" y="290.7"><tspan class="a">A</tspan><tspan class="c">C</tspan><tspan class="t">TTT</tspan><tspan class="a">A</tspan></text>
<text class="q" x="233.8" y="299.8"><tspan class="a">A</tspan><tspan class="c">C</tspan><tspan class="t">TTT</tspan><tspan class="a">A</tspan></text>
<text class="q" x="233.8" y="308.9"><tspan class="a">A</tspan><tspan class="c">C</tspan><tspan class="t">TTT</tspan><tspan class="a">A</tspan><tspan class="t">T</tspan><tspan class="a">AAA</tspan><tspan class="t">T</tspan><tspan class="g">G</tspan><tspan class="t">T</tspan><tspan class="a">A</tspan><tspan class="t">T</tspan><tspan class="a">A</tspan><tspan class="c">CC</tspan><tspan class="a">A</tspan></text>
<path class="ds" d="M219.5,120V317M230.5,120V317"/>
<path d="M0,318.5H440" stroke="#999"/>
<text class="q" x="2.8" y="329.5"><tspan class="g">G</tspan><tspan class="a">A</tspan><tspan class="g">GG</tspan><tspan class="t">TTT</tspan><tspan class="a">A</tspan><tspan class="c">C</tspan><tspan class="a">A</tspan><tspan class="t">T</tspan><tspan class="g">G</tspan><tspan class="t">T</tspan><tspan class="a">AAA</tspan><tspan class="g">GG</tspan><tspan class="t">T</tspan><tspan class="c">C</tspan><tspan class="a">A</tspan><tspan class="g">G</tspan><tspan class="a">A</tspan><tspan class="c">CC</tspan><tspan class="t">T</tspan><tspan class="g">GG</tspan><tspan class="a">A</tspan><tspan class="g">G</tspan><tspan class="a">AA</tspan><tspan class="g">GG</tspan><tspan class="t">T</tspan><tspan class="c">C</tspan><tspan class="t">TT</tspan><tspan class="g">G</tspan><tspan class="a">A</tspan></text>
<path d="M0,338H440" stroke="#5050d0" stroke-width="1.3"/><rect x="0" y="335" width="440" height="6" fill="url(#gl)"/>
<rect y="343" width="440" height="22" fill="#f1f1f1"/><rect x="121" y="347" width="197" height="18" fill="#fff"/>
<text class="tt" x="220" y="353.7">DDIT3</text>
</g>
<g transform="translate(440,0)"><g clip-path="url(#cp)">
<rect x="2" y="10" width="436" height="6.5" fill="#fff" stroke="#444" stroke-width="0.6"/>
<path class="i1" d="M280,13.25H325"/><path class="i2" d="M362,13.25H385"/><path class="i3" d="M38,13.25H51M63,13.25H71M82,13.25H104M119,13.25H136M258,13.25H278M345,13.25H354M398,13.25H410"/>
<rect x="168" y="9.5" width="20" height="7.5" fill="#fff"/><path d="M168,10L178,13.25L168,16.5ZM188,10L178,13.25L188,16.5Z" fill="#9a1212"/><rect x="151" y="9" width="2.2" height="8.5" fill="#e01818"/>
<text class="bl" y="24"><tspan x="20">p13.3</tspan><tspan x="56">p13.13</tspan><tspan x="93">p12.3</tspan><tspan x="128">p12.1</tspan><tspan x="173">p11.1</tspan><tspan x="208">q11.2</tspan><tspan x="242">q12.1</tspan><tspan x="278">q13</tspan><tspan x="302">q21</tspan><tspan x="334">q22.1</tspan><tspan x="373">q23.1</tspan><tspan x="404">q23.3</tspan><tspan x="433">q24</tspan></text>
<text class="tt" x="220" y="40.7">Chr16:31198639</text>
<path d="M6,51H434" stroke="#333" stroke-width="0.8"/><path d="M2,51l6,-2.2v4.4zM438,51l-6,-2.2v4.4z" fill="#111"/><rect x="205" y="46" width="30" height="9" fill="#fff"/><text class="bp" x="220" y="54">41 bp</text>
<text class="tk" y="66.5"><tspan x="127">31,198,630 bp</tspan><tspan x="236">31,198,640 bp</tspan><tspan x="346">31,198,650 bp</tspan><tspan x="456">31,198,660 bp</tspan></text>
<path class="tkl" d="M17,70v6M72,70v6M127,70v6M183,70v6M236,70v6M292,70v6M346,70v6M401,70v6"/>
<path d="M0,77.5H440" stroke="#999"/><path d="M0,84H440" stroke="#666" stroke-width="1.4"/><path d="M0,87.5H440" stroke="#aaa"/>
<g class="cv"><rect x="0" y="96" width="140" height="21"/><rect x="140" y="97" width="88" height="20"/><rect x="228" y="104" width="34" height="13"/><rect x="262" y="100" width="88" height="17"/><rect x="350" y="99" width="50" height="18"/><rect x="400" y="100" width="40" height="17"/></g>
<rect x="0" y="90" width="440" height="28" fill="url(#vs)"/><text class="cl" x="3" y="96">[0 - 27]</text>
<rect y="120" width="440" height="197" fill="#fff"/><rect y="120" width="440" height="197" fill="url(#rw)"/>
<rect class="w" x="0" y="192.8" width="9" height="7.4"/>
<rect class="w" x="0" y="201.9" width="52" height="7.4"/>
<rect class="w" x="22" y="211" width="107" height="7.4"/>
<rect class="w" x="54" y="220.1" width="221" height="7.4"/>
<rect class="w" x="146" y="229.2" width="195" height="7.4"/>
<rect class="w" x="0" y="247.4" width="350" height="7.4"/>
<rect class="w" x="330" y="256.5" width="109" height="7.4"/>
<rect class="w" x="409" y="265.6" width="31" height="7.4"/>
<rect y="302" width="440" height="7.3" fill="#9c97a8"/>
<text class="q" x="2.8" y="145.1"><tspan class="a">AA</tspan><tspan class="t">T</tspan><tspan class="g">GG</tspan><tspan class="c">C</tspan><tspan class="a">AA</tspan><tspan class="g">G</tspan><tspan class="t">T</tspan><tspan class="a">A</tspan><tspan class="g">GG</tspan><tspan class="c">C</tspan><tspan class="a">A</tspan><tspan class="g">G</tspan><tspan class="t">T</tspan><tspan class="a">A</tspan><tspan class="g">G</tspan><tspan class="a">A</tspan><tspan class="c">C</tspan><tspan class="a">A</tspan><tspan class="g">G</tspan><tspan class="c">C</tspan></text>
<text class="q" x="2.8" y="154.2"><tspan class="a">AA</tspan><tspan class="t">T</tspan><tspan class="g">GG</tspan><tspan class="c">C</tspan><tspan class="a">AA</tspan><tspan class="g">G</tspan><tspan class="t">T</tspan><tspan class="a">A</tspan><tspan class="g">GG</tspan><tspan class="c">C</tspan><tspan class="a">A</tspan><tspan class="g">G</tspan><tspan class="t">T</tspan><tspan class="a">A</tspan><tspan class="g">G</tspan><tspan class="a">A</tspan><tspan class="c">C</tspan><tspan class="a">A</tspan><tspan class="g">G</tspan><tspan class="c">C</tspan></text>
<text class="q" x="233.8" y="163.3"><tspan class="t">T</tspan><tspan class="g">GG</tspan><tspan class="a">AAA</tspan><tspan class="t">T</tspan><tspan class="g">G</tspan><tspan class="t">T</tspan><tspan class="a">A</tspan><tspan class="c">C</tspan><tspan class="a">A</tspan><tspan class="t">TTT</tspan><tspan class="g">GG</tspan><tspan class="a">A</tspan><tspan class="g">G</tspan></text>
<text class="q" x="233.8" y="172.4"><tspan class="t">T</tspan><tspan class="g">GG</tspan><tspan class="a">AAA</tspan><tspan class="t">T</tspan><tspan class="g">G</tspan><tspan class="t">T</tspan><tspan class="a">A</tspan><tspan class="c">C</tspan><tspan class="a">A</tspan><tspan class="t">TTT</tspan><tspan class="g">GG</tspan><tspan class="a">A</tspan><tspan class="g">G</tspan></text>
<text class="q" x="134.8" y="217.9"><tspan class="g">G</tspan><tspan class="c">C</tspan><tspan class="a">A</tspan><tspan class="g">G</tspan><tspan class="t">T</tspan><tspan class="a">A</tspan><tspan class="g">G</tspan><tspan class="a">A</tspan><tspan class="c">C</tspan><tspan class="a">A</tspan><tspan class="g">G</tspan><tspan class="c">C</tspan></text>
<text class="q" x="233.8" y="290.7"><tspan class="t">T</tspan><tspan class="g">GG</tspan><tspan class="a">AAA</tspan><tspan class="t">T</tspan><tspan class="g">G</tspan><tspan class="t">T</tspan><tspan class="a">A</tspan><tspan class="c">C</tspan><tspan class="a">A</tspan><tspan class="t">TTT</tspan><tspan class="g">GG</tspan><tspan class="a">A</tspan><tspan class="g">G</tspan></text>
<text class="q" x="233.8" y="299.8"><tspan class="t">T</tspan><tspan class="g">GG</tspan><tspan class="a">AAA</tspan><tspan class="t">T</tspan><tspan class="g">G</tspan><tspan class="t">T</tspan><tspan class="a">A</tspan><tspan class="c">C</tspan><tspan class="a">A</tspan><tspan class="t">TTT</tspan><tspan class="g">GG</tspan><tspan class="a">A</tspan><tspan class="g">G</tspan></text>
<text class="q" x="233.8" y="308.9"><tspan class="t">T</tspan><tspan class="g">GG</tspan><tspan class="a">AAA</tspan><tspan class="t">T</tspan><tspan class="g">G</tspan><tspan class="t">T</tspan><tspan class="a">A</tspan><tspan class="c">C</tspan><tspan class="a">A</tspan><tspan class="t">TTT</tspan><tspan class="g">GG</tspan><tspan class="a">A</tspan><tspan class="g">G</tspan></text>
<path class="ds" d="M219.5,120V317M230.5,120V317"/>
<path d="M0,318.5H440" stroke="#999"/>
<text class="q" x="2.8" y="329.5"><tspan class="a">A</tspan><tspan class="c">CC</tspan><tspan class="a">A</tspan><tspan class="t">T</tspan><tspan class="a">A</tspan><tspan class="t">T</tspan><tspan class="g">G</tspan><tspan class="t">T</tspan><tspan class="a">AAA</tspan><tspan class="t">T</tspan><tspan class="a">A</tspan><tspan class="t">TTT</tspan><tspan class="c">C</tspan><tspan class="a">A</tspan><tspan class="t">T</tspan><tspan class="g">G</tspan><tspan class="c">CC</tspan><tspan class="t">TT</tspan><tspan class="a">A</tspan><tspan class="c">CC</tspan><tspan class="a">A</tspan><tspan class="c">C</tspan><tspan class="a">A</tspan><tspan class="g">G</tspan><tspan class="t">TT</tspan><tspan class="a">A</tspan><tspan class="c">C</tspan><tspan class="t">TT</tspan><tspan class="a">A</tspan><tspan class="c">C</tspan></text>
<path d="M0,338H440" stroke="#5050d0" stroke-width="1.3"/><rect x="0" y="335" width="440" height="6" fill="url(#gr)"/>
<rect y="343" width="440" height="22" fill="#f1f1f1"/><rect x="121" y="347" width="197" height="18" fill="#fff"/>
<text class="tt" x="220" y="353.7">FUS</text>
</g></g>
<rect class="fr" x="0" y="0" width="880" height="365"/><path d="M440,0V365" stroke="#c4c4c4"/>
</g>

<!-- ================= PANEL E ================= -->
<g transform="translate(3,983)">
<g clip-path="url(#cp)">
<rect x="2" y="10" width="436" height="6.5" fill="#fff" stroke="#444" stroke-width="0.6"/>
<path class="i1" d="M49,13.25H88M127,13.25H153M265,13.25H286M293,13.25H306"/><path class="i2" d="M33,13.25H43M192,13.25H207M236,13.25H249M317,13.25H334M414,13.25H426"/><path class="i3" d="M12,13.25H18M91,13.25H103M216,13.25H224M343,13.25H360M371,13.25H396"/><path class="i4" d="M162,13.25H170"/>
<rect x="107" y="9.5" width="20" height="7.5" fill="#fff"/><path d="M107,10L117,13.25L107,16.5ZM127,10L117,13.25L127,16.5Z" fill="#9a1212"/><rect x="189" y="9" width="2.2" height="8.5" fill="#e01818"/>
<text class="bl" y="24"><tspan x="25">p13.31</tspan><tspan x="58">p12.3</tspan><tspan x="90">p11.23</tspan><tspan x="122">q11</tspan><tspan x="158">q13.11</tspan><tspan x="190">q13.3</tspan><tspan x="219">q14.3</tspan><tspan x="258">q21.2</tspan><tspan x="291">q21.32</tspan><tspan x="326">q23.1</tspan><tspan x="363">q24.11</tspan><tspan x="406">q24.31</tspan></text>
<text class="tt" x="220" y="40.7">Chr12:57913846</text>
<path d="M6,51H434" stroke="#333" stroke-width="0.8"/><path d="M2,51l6,-2.2v4.4zM438,51l-6,-2.2v4.4z" fill="#111"/><rect x="205" y="46" width="30" height="9" fill="#fff"/><text class="bp" x="220" y="54">41 bp</text>
<text class="tk" y="66.5"><tspan x="49">57,913,830 bp</tspan><tspan x="159">57,913,840 bp</tspan><tspan x="269">57,913,850 bp</tspan><tspan x="379">57,913,860 bp</tspan></text>
<path class="tkl" d="M49,70v6M104,70v6M159,70v6M214,70v6M269,70v6M324,70v6M379,70v6M434,70v6"/>
<path d="M0,77.5H440" stroke="#999"/><path d="M0,84H440" stroke="#666" stroke-width="1.4"/><path d="M0,87.5H440" stroke="#aaa"/>
<g class="cv"><rect x="0" y="96" width="55" height="21"/><rect x="55" y="98" width="175" height="19"/><rect x="230" y="102" width="35" height="15"/><rect x="265" y="101" width="105" height="16"/><rect x="370" y="100" width="70" height="17"/></g>
<rect x="0" y="90" width="440" height="28" fill="url(#vs)"/><text class="cl" x="3" y="96">[0 - 65]</text>
<rect y="120" width="440" height="197" fill="#fff"/><rect y="120" width="440" height="197" fill="url(#rw)"/>
<g stroke="#222" stroke-width="0.9"><rect y="120" width="440" height="7.3" fill="#d15353"/><rect y="129.1" width="440" height="7.3" fill="#7399c9"/><rect y="138.2" width="440" height="7.3" fill="#7399c9"/><rect y="147.3" width="440" height="7.3" fill="#8ec47a"/><rect y="156.4" width="440" height="7.3" fill="#b07c5f"/></g>
<path d="M230.5,120V164" stroke="#222" stroke-width="1"/>
<rect class="w" x="0" y="292.9" width="20" height="7.4"/>
<rect class="w" x="0" y="302" width="110" height="7.4"/>
<rect class="w" x="0" y="311.1" width="173" height="7"/>
<text class="q" x="233.8" y="126.9"><tspan class="g">G</tspan><tspan class="c">C</tspan><tspan class="t">T</tspan><tspan class="g">G</tspan><tspan class="t">TTT</tspan><tspan class="a">AA</tspan><tspan class="g">G</tspan><tspan class="a">A</tspan><tspan class="c">CC</tspan><tspan class="t">TT</tspan><tspan class="c">CC</tspan><tspan class="t">T</tspan><tspan class="g">G</tspan></text>
<text class="q" x="233.8" y="136"><tspan class="g">G</tspan><tspan class="c">C</tspan><tspan class="t">T</tspan><tspan class="g">G</tspan><tspan class="t">TTT</tspan><tspan class="a">AA</tspan><tspan class="g">G</tspan><tspan class="a">A</tspan><tspan class="c">CC</tspan><tspan class="t">TT</tspan><tspan class="c">CC</tspan><tspan class="t">T</tspan><tspan class="g">G</tspan></text>
<text class="q" x="233.8" y="145.1"><tspan class="g">G</tspan><tspan class="c">C</tspan><tspan class="t">T</tspan><tspan class="g">G</tspan><tspan class="t">TTT</tspan><tspan class="a">AA</tspan><tspan class="g">G</tspan><tspan class="a">A</tspan><tspan class="c">CC</tspan><tspan class="t">TT</tspan><tspan class="c">CC</tspan><tspan class="t">T</tspan><tspan class="g">G</tspan></text>
<text class="q" x="233.8" y="154.2"><tspan class="g">G</tspan><tspan class="c">C</tspan><tspan class="t">T</tspan><tspan class="g">G</tspan><tspan class="t">TTT</tspan><tspan class="a">AA</tspan><tspan class="g">G</tspan><tspan class="a">A</tspan><tspan class="c">CC</tspan><tspan class="t">TT</tspan><tspan class="c">CC</tspan><tspan class="t">T</tspan><tspan class="g">G</tspan></text>
<text class="q" x="233.8" y="163.3"><tspan class="g">G</tspan><tspan class="c">C</tspan><tspan class="t">T</tspan><tspan class="g">G</tspan><tspan class="t">TTT</tspan><tspan class="a">AA</tspan><tspan class="g">G</tspan><tspan class="a">A</tspan><tspan class="c">CC</tspan><tspan class="t">TT</tspan><tspan class="c">CC</tspan><tspan class="t">T</tspan><tspan class="g">G</tspan></text>
<path class="ds" d="M219.5,120V317M230.5,164V317"/>
<path d="M0,318.5H440" stroke="#999"/>
<text class="q" x="2.8" y="329.5"><tspan class="c">CC</tspan><tspan class="t">TTT</tspan><tspan class="g">G</tspan><tspan class="c">CC</tspan><tspan class="g">GG</tspan><tspan class="a">A</tspan><tspan class="c">C</tspan><tspan class="t">T</tspan><tspan class="c">C</tspan><tspan class="g">G</tspan><tspan class="c">C</tspan><tspan class="t">T</tspan><tspan class="a">A</tspan><tspan class="c">CC</tspan><tspan class="a">A</tspan><tspan class="g">G</tspan><tspan class="t">T</tspan><tspan class="g">GGG</tspan><tspan class="t">T</tspan><tspan class="c">C</tspan><tspan class="a">A</tspan><tspan class="g">G</tspan><tspan class="a">AA</tspan><tspan class="t">T</tspan><tspan class="c">C</tspan><tspan class="t">T</tspan><tspan class="c">C</tspan><tspan class="g">G</tspan><tspan class="c">CCC</tspan></text>
<path d="M0,338H440" stroke="#5050d0" stroke-width="1.3"/><rect x="0" y="335" width="440" height="6" fill="url(#gl)"/>
<rect y="343" width="440" height="22" fill="#f1f1f1"/><rect x="121" y="347" width="197" height="18" fill="#fff"/>
<text class="tt" x="220" y="353.7">DDIT3</text>
</g>
<g transform="translate(440,0)"><g clip-path="url(#cp)">
<rect x="2" y="10" width="436" height="6.5" fill="#fff" stroke="#444" stroke-width="0.6"/>
<path class="i1" d="M280,13.25H325"/><path class="i2" d="M362,13.25H385"/><path class="i3" d="M38,13.25H51M63,13.25H71M82,13.25H104M119,13.25H136M258,13.25H278M345,13.25H354M398,13.25H410"/>
<rect x="168" y="9.5" width="20" height="7.5" fill="#fff"/><path d="M168,10L178,13.25L168,16.5ZM188,10L178,13.25L188,16.5Z" fill="#9a1212"/><rect x="151" y="9" width="2.2" height="8.5" fill="#e01818"/>
<text class="bl" y="24"><tspan x="20">p13.3</tspan><tspan x="56">p13.13</tspan><tspan x="93">p12.3</tspan><tspan x="128">p12.1</tspan><tspan x="173">p11.1</tspan><tspan x="208">q11.2</tspan><tspan x="242">q12.1</tspan><tspan x="278">q13</tspan><tspan x="302">q21</tspan><tspan x="334">q22.1</tspan><tspan x="373">q23.1</tspan><tspan x="404">q23.3</tspan><tspan x="433">q24</tspan></text>
<text class="tt" x="220" y="40.7">Chr16:31198827</text>
<path d="M6,51H434" stroke="#333" stroke-width="0.8"/><path d="M2,51l6,-2.2v4.4zM438,51l-6,-2.2v4.4z" fill="#111"/><rect x="205" y="46" width="30" height="9" fill="#fff"/><text class="bp" x="220" y="54">41 bp</text>
<text class="tk" y="66.5"><tspan x="37">31,198,810 bp</tspan><tspan x="148">31,198,820 bp</tspan><tspan x="257">31,198,830 bp</tspan><tspan x="367">31,198,840 bp</tspan></text>
<path class="tkl" d="M37,70v6M93,70v6M148,70v6M203,70v6M257,70v6M313,70v6M367,70v6M422,70v6"/>
<path d="M0,77.5H440" stroke="#999"/><path d="M0,84H440" stroke="#666" stroke-width="1.4"/><path d="M0,87.5H440" stroke="#aaa"/>
<g class="cv"><rect x="0" y="93" width="65" height="24"/><rect x="65" y="96" width="163" height="21"/><rect x="228" y="98" width="212" height="19"/></g>
<rect x="0" y="90" width="440" height="28" fill="url(#vs)"/><text class="cl" x="3" y="96">[0 - 60]</text>
<rect y="120" width="440" height="197" fill="#fff"/><rect y="120" width="440" height="197" fill="url(#rw)"/>
<g stroke="#222" stroke-width="0.9"><rect y="120" width="440" height="7.3" fill="#d15353"/><rect y="129.1" width="440" height="7.3" fill="#7399c9"/><rect y="138.2" width="440" height="7.3" fill="#7399c9"/><rect y="147.3" width="440" height="7.3" fill="#8ec47a"/><rect y="156.4" width="440" height="7.3" fill="#b07c5f"/><rect x="0" y="165.5" width="100" height="7.3" fill="#8ec47a"/></g>
<path d="M230.5,120V164" stroke="#222" stroke-width="1"/>
<rect class="w" x="100.5" y="165" width="229.5" height="7.9"/><rect x="330" y="165.5" width="110" height="7.3" fill="#c44848"/>
<rect class="w" x="0" y="265.6" width="173" height="7.4"/>
<rect class="w" x="0" y="274.7" width="173" height="7.4"/>
<rect class="w" x="0" y="283.8" width="220" height="7.4"/>
<rect class="w" x="256" y="292.9" width="184" height="7.4"/>
<rect class="w" x="311" y="302" width="129" height="7.4"/>
<rect class="w" x="343" y="311.1" width="97" height="7"/>
<text class="q" x="233.8" y="126.9"><tspan class="c">C</tspan><tspan class="a">A</tspan><tspan class="t">T</tspan><tspan class="c">C</tspan><tspan class="g">G</tspan><tspan class="c">C</tspan><tspan class="t">T</tspan><tspan class="c">C</tspan><tspan class="a">A</tspan><tspan class="g">GG</tspan><tspan class="c">CC</tspan><tspan class="g">G</tspan><tspan class="t">TTT</tspan><tspan class="c">CC</tspan></text>
<text class="q" x="233.8" y="136"><tspan class="c">C</tspan><tspan class="a">A</tspan><tspan class="t">T</tspan><tspan class="c">C</tspan><tspan class="g">G</tspan><tspan class="c">C</tspan><tspan class="t">T</tspan><tspan class="c">C</tspan><tspan class="a">A</tspan><tspan class="g">GG</tspan><tspan class="c">CC</tspan><tspan class="g">G</tspan><tspan class="t">TTT</tspan><tspan class="c">CC</tspan></text>
<text class="q" x="233.8" y="145.1"><tspan class="c">C</tspan><tspan class="a">A</tspan><tspan class="t">T</tspan><tspan class="c">C</tspan><tspan class="g">G</tspan><tspan class="c">C</tspan><tspan class="t">T</tspan><tspan class="c">C</tspan><tspan class="a">A</tspan><tspan class="g">GG</tspan><tspan class="c">CC</tspan><tspan class="g">G</tspan><tspan class="t">TTT</tspan><tspan class="c">CC</tspan></text>
<text class="q" x="233.8" y="154.2"><tspan class="c">C</tspan><tspan class="a">A</tspan><tspan class="t">T</tspan><tspan class="c">C</tspan><tspan class="g">G</tspan><tspan class="c">C</tspan><tspan class="t">T</tspan><tspan class="c">C</tspan><tspan class="a">A</tspan><tspan class="g">GG</tspan><tspan class="c">CC</tspan><tspan class="g">G</tspan><tspan class="t">TTT</tspan><tspan class="c">CC</tspan></text>
<text class="q" x="233.8" y="163.3"><tspan class="c">C</tspan><tspan class="a">A</tspan><tspan class="t">T</tspan><tspan class="c">C</tspan><tspan class="g">G</tspan><tspan class="c">C</tspan><tspan class="t">T</tspan><tspan class="c">C</tspan><tspan class="a">A</tspan><tspan class="g">GG</tspan><tspan class="c">CC</tspan><tspan class="g">G</tspan><tspan class="t">TTT</tspan><tspan class="c">CC</tspan></text>
<text class="q" x="57.8" y="208.8" style="fill:#e07070">T             T       TT        T</text>
<text class="q" x="244.8" y="236.1" style="fill:#e07070">T</text>
<path class="ds" d="M219.5,120V317M230.5,164V317"/>
<path d="M0,318.5H440" stroke="#999"/>
<text class="q" x="2.8" y="329.5"><tspan class="g">G</tspan><tspan class="t">T</tspan><tspan class="c">CC</tspan><tspan class="t">TT</tspan><tspan class="c">CC</tspan><tspan class="a">A</tspan><tspan class="g">G</tspan><tspan class="a">AA</tspan><tspan class="t">TTT</tspan><tspan class="g">G</tspan><tspan class="t">T</tspan><tspan class="c">C</tspan><tspan class="g">G</tspan><tspan class="t">T</tspan><tspan class="g">G</tspan><tspan class="t">TTT</tspan><tspan class="g">G</tspan><tspan class="a">A</tspan><tspan class="c">C</tspan><tspan class="t">TT</tspan><tspan class="a">AA</tspan><tspan class="g">G</tspan><tspan class="t">T</tspan><tspan class="a">A</tspan><tspan class="c">CC</tspan><tspan class="t">TTTT</tspan></text>
<path d="M0,338H440" stroke="#5050d0" stroke-width="1.3"/><rect x="0" y="335" width="440" height="6" fill="url(#gr)"/>
<rect y="343" width="440" height="22" fill="#f1f1f1"/><rect x="121" y="347" width="197" height="18" fill="#fff"/>
<text class="tt" x="220" y="353.7">FUS</text>
</g></g>
<rect class="fr" x="0" y="0" width="880" height="365"/><path d="M440,0V365" stroke="#c4c4c4"/>
</g>

<!-- ================= PANEL F ================= -->
<g transform="translate(888.5,983)">
<g clip-path="url(#cp)">
<rect x="2" y="10" width="436" height="6.5" fill="#fff" stroke="#444" stroke-width="0.6"/>
<path class="i1" d="M49,13.25H88M127,13.25H153M265,13.25H286M293,13.25H306"/><path class="i2" d="M33,13.25H43M192,13.25H207M236,13.25H249M317,13.25H334M414,13.25H426"/><path class="i3" d="M12,13.25H18M91,13.25H103M216,13.25H224M343,13.25H360M371,13.25H396"/><path class="i4" d="M162,13.25H170"/>
<rect x="107" y="9.5" width="20" height="7.5" fill="#fff"/><path d="M107,10L117,13.25L107,16.5ZM127,10L117,13.25L127,16.5Z" fill="#9a1212"/><rect x="189" y="9" width="2.2" height="8.5" fill="#e01818"/>
<text class="bl" y="24"><tspan x="25">p13.31</tspan><tspan x="58">p12.3</tspan><tspan x="90">p11.23</tspan><tspan x="122">q11</tspan><tspan x="158">q13.11</tspan><tspan x="190">q13.3</tspan><tspan x="219">q14.3</tspan><tspan x="258">q21.2</tspan><tspan x="291">q21.32</tspan><tspan x="326">q23.1</tspan><tspan x="363">q24.11</tspan><tspan x="406">q24.31</tspan></text>
<text class="tt" x="220" y="40.7">Chr12:57912112</text>
<path d="M6,51H434" stroke="#333" stroke-width="0.8"/><path d="M2,51l6,-2.2v4.4zM438,51l-6,-2.2v4.4z" fill="#111"/><rect x="205" y="46" width="30" height="9" fill="#fff"/><text class="bp" x="220" y="54">41 bp</text>
<text class="tk" y="66.5"><tspan x="94">57,912,100 bp</tspan><tspan x="204">57,912,110 bp</tspan><tspan x="313">57,912,120 bp</tspan><tspan x="423">57,912,130 bp</tspan></text>
<path class="tkl" d="M39,70v6M94,70v6M149,70v6M204,70v6M259,70v6M313,70v6M369,70v6M423,70v6"/>
<path d="M0,77.5H440" stroke="#999"/><path d="M0,84H440" stroke="#666" stroke-width="1.4"/><path d="M0,87.5H440" stroke="#aaa"/>
<rect y="90" width="440" height="227" fill="#fff"/><rect y="90" width="440" height="227" fill="url(#rf1)"/>
<rect class="w" x="0" y="107.8" width="12" height="7.4"/>
<rect class="w" x="0" y="116.95" width="118" height="7.4"/>
<rect class="w" x="165" y="126.1" width="130" height="7.4"/>
<rect class="w" x="330" y="135.25" width="52" height="7.4"/>
<rect class="w" x="330" y="144.4" width="110" height="7.4"/>
<rect y="153.55" width="440" height="7.3" fill="#7e877f"/>
<rect class="w" x="146" y="162.7" width="294" height="7.4"/>
<rect class="w" x="143" y="171.85" width="297" height="7.4"/>
<rect class="w" x="0" y="181" width="440" height="16.6"/>
<rect y="226.75" width="440" height="7.3" fill="#7e877f"/>
<rect class="w" x="296" y="235.9" width="144" height="7.4"/>
<rect class="w" x="299" y="245.05" width="141" height="7.4"/>
<rect class="w" x="286" y="254.2" width="154" height="7.4"/>
<rect class="w" x="299" y="272.5" width="141" height="7.4"/>
<rect y="281.65" width="440" height="7.3" fill="#7e877f"/>
<rect y="290.8" width="440" height="7.3" fill="#7e877f"/>
<rect class="w" x="0" y="299.95" width="440" height="18"/>
<text class="q" x="233.8" y="160.45"><tspan class="a">A</tspan><tspan class="c">C</tspan><tspan class="a">AAAAAA</tspan><tspan class="t">T</tspan><tspan class="a">A</tspan><tspan class="g">G</tspan><tspan class="c">C</tspan><tspan class="t">T</tspan><tspan class="g">GGG</tspan><tspan class="c">C</tspan><tspan class="a">A</tspan><tspan class="t">T</tspan></text>
<text class="q" x="233.8" y="233.65"><tspan class="a">A</tspan><tspan class="c">C</tspan><tspan class="a">AAAAAA</tspan><tspan class="t">T</tspan><tspan class="a">A</tspan><tspan class="g">G</tspan><tspan class="c">C</tspan><tspan class="t">T</tspan><tspan class="g">GGG</tspan><tspan class="c">C</tspan><tspan class="a">A</tspan><tspan class="t">T</tspan></text>
<text class="q" x="233.8" y="288.55"><tspan class="a">A</tspan><tspan class="c">C</tspan><tspan class="a">AAAAAA</tspan><tspan class="t">T</tspan><tspan class="a">A</tspan><tspan class="g">G</tspan><tspan class="c">C</tspan><tspan class="t">T</tspan><tspan class="g">GGG</tspan><tspan class="c">C</tspan><tspan class="a">A</tspan><tspan class="t">T</tspan></text>
<text class="q" x="233.8" y="297.7"><tspan class="a">A</tspan><tspan class="c">C</tspan><tspan class="a">AAAAAA</tspan><tspan class="t">T</tspan><tspan class="a">A</tspan><tspan class="g">G</tspan><tspan class="c">C</tspan><tspan class="t">T</tspan><tspan class="g">GGG</tspan><tspan class="c">C</tspan><tspan class="a">A</tspan><tspan class="t">T</tspan></text>
<path class="ds" d="M219.5,90V317M230.5,90V317"/>
<path d="M0,318.5H440" stroke="#999"/>
<text class="q" x="2.8" y="329.5"><tspan class="g">GG</tspan><tspan class="t">TTT</tspan><tspan class="c">C</tspan><tspan class="g">G</tspan><tspan class="t">T</tspan><tspan class="c">CC</tspan><tspan class="g">GG</tspan><tspan class="a">A</tspan><tspan class="g">G</tspan><tspan class="t">TTT</tspan><tspan class="a">A</tspan><tspan class="g">G</tspan><tspan class="a">A</tspan><tspan class="c">C</tspan><tspan class="g">GG</tspan><tspan class="t">T</tspan><tspan class="c">CCC</tspan><tspan class="a">A</tspan><tspan class="t">TTTTT</tspan><tspan class="g">G</tspan><tspan class="a">A</tspan><tspan class="t">TTT</tspan><tspan class="g">G</tspan><tspan class="a">A</tspan></text>
<path d="M0,338H440" stroke="#5050d0" stroke-width="1.3"/><rect x="0" y="335" width="440" height="6" fill="url(#gl)"/>
<rect y="343" width="440" height="22" fill="#f1f1f1"/><rect x="121" y="347" width="197" height="18" fill="#fff"/>
<text class="tt" x="220" y="353.7">DDIT3</text>
</g>
<g transform="translate(440,0)"><g clip-path="url(#cp)">
<rect x="2" y="10" width="436" height="6.5" fill="#fff" stroke="#444" stroke-width="0.6"/>
<path class="i3" d="M224,13.25H255M276,13.25H322M354,13.25H379M416,13.25H424"/><path class="i4" d="M191,13.25H201"/>
<rect x="104" y="9.5" width="50" height="7.5" fill="#fff"/><path d="M104,10L129,13.25L104,16.5ZM154,10L129,13.25L154,16.5Z" fill="#9a1212"/><rect x="254" y="9" width="2.2" height="8.5" fill="#e01818"/>
<text class="bl" y="24"><tspan x="16">p13</tspan><tspan x="52">p12</tspan><tspan x="88">p11.2</tspan><tspan x="115">p11.1</tspan><tspan x="172">q11.21</tspan><tspan x="212">q11.23</tspan><tspan x="264">q12.2</tspan><tspan x="299">q12.3</tspan><tspan x="337">q13.1</tspan><tspan x="366">q13.2</tspan><tspan x="397">q13.31</tspan><tspan x="430">q13.3</tspan></text>
<text class="tt" x="220" y="40.7">Chr22:29683370</text>
<path d="M6,51H434" stroke="#333" stroke-width="0.8"/><path d="M2,51l6,-2.2v4.4zM438,51l-6,-2.2v4.4z" fill="#111"/><rect x="205" y="46" width="30" height="9" fill="#fff"/><text class="bp" x="220" y="54">41 bp</text>
<text class="tk" y="66.5"><tspan x="116">29,683,360 bp</tspan><tspan x="225">29,683,370 bp</tspan><tspan x="336">29,683,380 bp</tspan><tspan x="446">29,683,390 bp</tspan></text>
<path class="tkl" d="M2,70v6M57,70v6M116,70v6M171,70v6M225,70v6M280,70v6M336,70v6M391,70v6"/>
<path d="M0,77.5H440" stroke="#999"/><path d="M0,84H440" stroke="#666" stroke-width="1.4"/><path d="M0,87.5H440" stroke="#aaa"/>
<rect y="90" width="440" height="227" fill="#fff"/><rect y="90" width="440" height="227" fill="url(#rf2)"/>
<rect class="w" x="263" y="89" width="177" height="5"/>
<rect class="w" x="307" y="94.9" width="133" height="7.4"/>
<rect class="w" x="388" y="104.05" width="52" height="7.4"/>
<rect class="w" x="354" y="113.2" width="86" height="7.4"/>
<rect class="w" x="427" y="122.35" width="13" height="7.4"/>
<rect class="w" x="322" y="131.5" width="118" height="7.4"/>
<rect class="w" x="319" y="140.65" width="121" height="7.4"/>
<rect y="168.1" width="440" height="7.3" fill="#a09bab"/>
<rect y="177.25" width="440" height="7.3" fill="#7a7af2"/>
<rect y="223" width="440" height="7.3" fill="#b8866a"/>
<rect y="241.3" width="440" height="7.3" fill="#a09bab"/>
<rect y="305.35" width="440" height="7.3" fill="#d5a888"/>
<rect class="w" x="0" y="314.5" width="440" height="4"/>
<text class="q" x="233.8" y="110.95"><tspan class="c">C</tspan><tspan class="a">A</tspan><tspan class="g">G</tspan><tspan class="a">A</tspan><tspan class="t">TTT</tspan><tspan class="g">G</tspan><tspan class="a">A</tspan><tspan class="g">GG</tspan><tspan class="c">CC</tspan><tspan class="t">T</tspan></text>
<text class="q" x="233.8" y="129.25"><tspan class="c">C</tspan><tspan class="a">A</tspan><tspan class="g">G</tspan><tspan class="a">A</tspan><tspan class="t">TTT</tspan><tspan class="g">G</tspan><tspan class="a">A</tspan><tspan class="g">GG</tspan><tspan class="c">CC</tspan><tspan class="t">T</tspan><tspan class="g">G</tspan><tspan class="c">C</tspan><tspan class="t">TT</tspan></text>
<text class="q" x="233.8" y="175"><tspan class="c">C</tspan><tspan class="a">A</tspan><tspan class="g">G</tspan><tspan class="a">A</tspan><tspan class="t">TTT</tspan><tspan class="g">G</tspan><tspan class="a">A</tspan><tspan class="g">GG</tspan><tspan class="c">CC</tspan><tspan class="t">T</tspan><tspan class="g">G</tspan><tspan class="c">C</tspan><tspan class="t">TTT</tspan></text>
<text class="q" x="310.8" y="211.6"><tspan class="a">A</tspan></text>
<text class="q" x="310.8" y="220.75"><tspan class="a">A</tspan></text>
<text class="q" x="233.8" y="239.05"><tspan class="c">C</tspan><tspan class="a">A</tspan><tspan class="g">G</tspan><tspan class="a">A</tspan><tspan class="t">TTT</tspan><tspan class="g">G</tspan><tspan class="a">A</tspan><tspan class="g">GG</tspan><tspan class="c">CC</tspan><tspan class="t">T</tspan><tspan class="g">G</tspan><tspan class="c">C</tspan><tspan class="t">TTT</tspan></text>
<text class="q" x="233.8" y="248.2"><tspan class="c">C</tspan><tspan class="a">A</tspan><tspan class="g">G</tspan><tspan class="a">A</tspan><tspan class="t">TTT</tspan><tspan class="g">G</tspan><tspan class="a">A</tspan><tspan class="g">GG</tspan><tspan class="c">CC</tspan><tspan class="t">T</tspan><tspan class="g">G</tspan><tspan class="c">C</tspan><tspan class="t">TTT</tspan></text>
<text class="q" x="233.8" y="266.5"><tspan class="c">C</tspan><tspan class="a">A</tspan><tspan class="g">G</tspan><tspan class="a">A</tspan><tspan class="t">TTT</tspan><tspan class="g">G</tspan><tspan class="a">A</tspan><tspan class="g">GG</tspan><tspan class="c">CC</tspan><tspan class="t">T</tspan><tspan class="g">G</tspan><tspan class="c">C</tspan><tspan class="t">TTT</tspan></text>
<text class="q" x="233.8" y="275.65"><tspan class="c">C</tspan><tspan class="a">A</tspan><tspan class="g">G</tspan><tspan class="a">A</tspan><tspan class="t">TTT</tspan><tspan class="g">G</tspan><tspan class="a">A</tspan><tspan class="g">GG</tspan><tspan class="c">CC</tspan><tspan class="t">T</tspan><tspan class="g">G</tspan><tspan class="c">C</tspan><tspan class="t">TTT</tspan></text>
<path class="ds" d="M219.5,90V317M230.5,90V317"/>
<path d="M0,318.5H440" stroke="#999"/>
<text class="q" x="2.8" y="329.5"><tspan class="g">G</tspan><tspan class="a">A</tspan><tspan class="t">T</tspan><tspan class="a">A</tspan><tspan class="c">C</tspan><tspan class="g">GGG</tspan><tspan class="t">T</tspan><tspan class="c">C</tspan><tspan class="g">G</tspan><tspan class="a">A</tspan><tspan class="t">T</tspan><tspan class="a">AAAAAA</tspan><tspan class="c">C</tspan><tspan class="a">A</tspan><tspan class="t">T</tspan><tspan class="a">AAAAA</tspan><tspan class="g">G</tspan><tspan class="c">C</tspan><tspan class="a">A</tspan><tspan class="t">T</tspan><tspan class="c">C</tspan><tspan class="t">T</tspan><tspan class="c">C</tspan><tspan class="t">T</tspan><tspan class="g">G</tspan><tspan class="c">CCCC</tspan></text>
<path d="M0,338H440" stroke="#5050d0" stroke-width="1.3"/><rect x="0" y="335" width="440" height="6" fill="url(#gr)"/>
<rect y="343" width="440" height="22" fill="#f1f1f1"/><rect x="121" y="347" width="197" height="18" fill="#fff"/>
<text class="tt" x="220" y="353.7">EWSR1</text>
</g></g>
<rect class="fr" x="0" y="0" width="880" height="365"/><path d="M440,0V365" stroke="#c4c4c4"/>
</g>
</svg>
</body></html>
